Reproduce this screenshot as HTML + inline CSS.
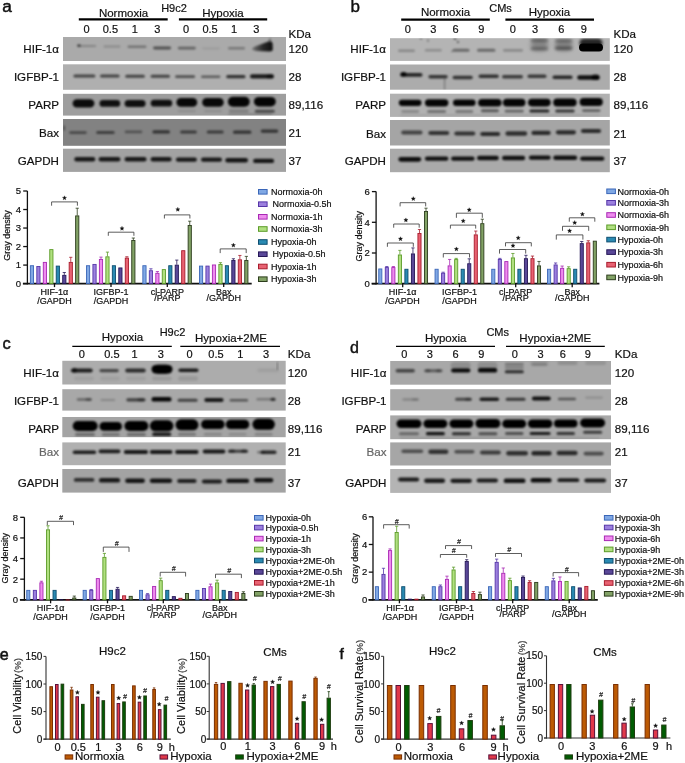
<!DOCTYPE html><html><head><meta charset="utf-8"><style>html,body{margin:0;padding:0;background:#fff;overflow:hidden}svg{display:block;will-change:transform}text{font-family:"Liberation Sans",sans-serif}</style></head><body>
<svg width="685" height="763" viewBox="0 0 685 763">
<defs>
<filter id="bl5" x="-20%" y="-80%" width="140%" height="260%"><feGaussianBlur stdDeviation="0.5"/></filter>
<filter id="bl6" x="-20%" y="-80%" width="140%" height="260%"><feGaussianBlur stdDeviation="0.6"/></filter>
<filter id="bl7" x="-20%" y="-80%" width="140%" height="260%"><feGaussianBlur stdDeviation="0.7"/></filter>
<filter id="bl8" x="-20%" y="-80%" width="140%" height="260%"><feGaussianBlur stdDeviation="0.8"/></filter>
<filter id="bl9" x="-20%" y="-80%" width="140%" height="260%"><feGaussianBlur stdDeviation="0.9"/></filter>
<filter id="bl10" x="-20%" y="-80%" width="140%" height="260%"><feGaussianBlur stdDeviation="1.0"/></filter>
<filter id="bl11" x="-20%" y="-80%" width="140%" height="260%"><feGaussianBlur stdDeviation="1.1"/></filter>
<filter id="bl12" x="-20%" y="-80%" width="140%" height="260%"><feGaussianBlur stdDeviation="1.2"/></filter>
<filter id="bl14" x="-20%" y="-80%" width="140%" height="260%"><feGaussianBlur stdDeviation="1.4"/></filter>
<filter id="bl16" x="-20%" y="-80%" width="140%" height="260%"><feGaussianBlur stdDeviation="1.6"/></filter>
<filter id="bl18" x="-20%" y="-80%" width="140%" height="260%"><feGaussianBlur stdDeviation="1.8"/></filter>
<filter id="bl20" x="-20%" y="-80%" width="140%" height="260%"><feGaussianBlur stdDeviation="2.0"/></filter>
<filter id="bl25" x="-20%" y="-80%" width="140%" height="260%"><feGaussianBlur stdDeviation="2.5"/></filter>
<filter id="bl30" x="-20%" y="-80%" width="140%" height="260%"><feGaussianBlur stdDeviation="3.0"/></filter>
<linearGradient id="wedge" x1="252" y1="0" x2="273" y2="0" gradientUnits="userSpaceOnUse"><stop offset="0" stop-color="#000" stop-opacity="0.3"/><stop offset="0.5" stop-color="#000" stop-opacity="0.75"/><stop offset="1" stop-color="#000" stop-opacity="0.92"/></linearGradient>
</defs>
<rect width="685" height="763" fill="#fff"/>
<text x="2.3" y="12.3" font-size="17.2" text-anchor="start" fill="#111" stroke="#111" stroke-width="0.5" >a</text>
<text x="123.5" y="16.6" font-size="11.5" text-anchor="middle" fill="#111" stroke="#111" stroke-width="0.2" >Normoxia</text>
<text x="223.0" y="16.6" font-size="11.5" text-anchor="middle" fill="#111" stroke="#111" stroke-width="0.2" >Hypoxia</text>
<text x="174.0" y="11.9" font-size="11" text-anchor="middle" fill="#111" stroke="#111" stroke-width="0.2" >H9c2</text>
<line x1="78.80" y1="19.30" x2="167.70" y2="19.30" stroke="#000" stroke-width="2.3" />
<line x1="178.90" y1="19.30" x2="267.20" y2="19.30" stroke="#000" stroke-width="2.3" />
<text x="86.6" y="32.9" font-size="11" text-anchor="middle" fill="#111" stroke="#111" stroke-width="0.2" >0</text>
<text x="110.4" y="32.9" font-size="11" text-anchor="middle" fill="#111" stroke="#111" stroke-width="0.2" >0.5</text>
<text x="134.8" y="32.9" font-size="11" text-anchor="middle" fill="#111" stroke="#111" stroke-width="0.2" >1</text>
<text x="157.2" y="32.9" font-size="11" text-anchor="middle" fill="#111" stroke="#111" stroke-width="0.2" >3</text>
<text x="186.1" y="32.9" font-size="11" text-anchor="middle" fill="#111" stroke="#111" stroke-width="0.2" >0</text>
<text x="210.1" y="32.9" font-size="11" text-anchor="middle" fill="#111" stroke="#111" stroke-width="0.2" >0.5</text>
<text x="234.0" y="32.9" font-size="11" text-anchor="middle" fill="#111" stroke="#111" stroke-width="0.2" >1</text>
<text x="256.4" y="32.9" font-size="11" text-anchor="middle" fill="#111" stroke="#111" stroke-width="0.2" >3</text>
<rect x="63.00" y="37.00" width="223.00" height="24.00" fill="#aaaaaa" />
<clipPath id="cp35"><rect x="63" y="37" width="223.00" height="24.00"/></clipPath>
<g clip-path="url(#cp35)">
<g filter="url(#bl10)">
<rect x="77.2" y="44.9" width="19.0" height="2.2" rx="1.1" fill="#000" fill-opacity="0.22"/>
<rect x="77.2" y="44.3" width="3.5" height="2.6" rx="1.3" fill="#000" fill-opacity="0.55"/>
<rect x="103.5" y="45.6" width="17.0" height="2.0" rx="1.0" fill="#000" fill-opacity="0.2"/>
<rect x="127.5" y="45.6" width="19.0" height="2.4" rx="1.2" fill="#000" fill-opacity="0.32"/>
<rect x="153.1" y="46.6" width="18.0" height="2.8" rx="1.4" fill="#000" fill-opacity="0.52"/>
<rect x="177.8" y="46.8" width="18.0" height="2.6" rx="1.3" fill="#000" fill-opacity="0.42"/>
<rect x="202.1" y="47.3" width="18.0" height="2.2" rx="1.1" fill="#000" fill-opacity="0.08"/>
<rect x="228.0" y="47.1" width="17.0" height="2.4" rx="1.2" fill="#000" fill-opacity="0.3"/>
</g>
</g>
<path d="M252,48.6 Q254,46.2 259,45 L267,42 Q272,40.5 272.6,43.5 L272.8,49.8 Q272.6,51.8 269,51.6 L256,51 Q252,50.6 252,48.6 Z" fill="url(#wedge)" filter="url(#bl8)"/>
<path d="M268,42 Q270,36 271,39 L271.5,44 Z" fill="#000" fill-opacity="0.35" filter="url(#bl10)"/>
<rect x="63.00" y="64.30" width="223.00" height="25.50" fill="#afafaf" />
<clipPath id="cp51"><rect x="63" y="64.3" width="223.00" height="25.50"/></clipPath>
<g clip-path="url(#cp51)">
<g filter="url(#bl10)">
<rect x="73.4" y="74.5" width="22.0" height="3.0" rx="1.5" fill="#000" fill-opacity="0.62"/>
<rect x="100.0" y="74.5" width="19.6" height="3.0" rx="1.5" fill="#000" fill-opacity="0.62"/>
<rect x="125.2" y="74.7" width="19.7" height="3.0" rx="1.5" fill="#000" fill-opacity="0.62"/>
<rect x="150.6" y="74.7" width="19.4" height="3.0" rx="1.5" fill="#000" fill-opacity="0.62"/>
<rect x="175.1" y="75.3" width="20.0" height="2.8" rx="1.4" fill="#000" fill-opacity="0.55"/>
<rect x="201.0" y="75.5" width="19.4" height="2.6" rx="1.3" fill="#000" fill-opacity="0.48"/>
<rect x="226.2" y="75.1" width="19.3" height="3.2" rx="1.6" fill="#000" fill-opacity="0.72"/>
<rect x="250.0" y="74.3" width="24.0" height="4.2" rx="2.1" fill="#000" fill-opacity="0.85"/>
<rect x="266.5" y="74.2" width="7.0" height="4.4" rx="2.2" fill="#000" fill-opacity="0.5"/>
</g>
</g>
<rect x="63.00" y="93.80" width="223.00" height="21.80" fill="#9e9e9e" />
<clipPath id="cp66"><rect x="63" y="93.8" width="223.00" height="21.80"/></clipPath>
<g clip-path="url(#cp66)">
<g filter="url(#bl12)">
<rect x="72.6" y="99.2" width="21.8" height="8.4" rx="4.2" fill="#000" fill-opacity="0.93"/>
<rect x="99.5" y="100.0" width="20.7" height="6.8" rx="3.4" fill="#000" fill-opacity="0.9"/>
<rect x="124.6" y="99.9" width="21.0" height="7.0" rx="3.5" fill="#000" fill-opacity="0.9"/>
<rect x="150.7" y="99.8" width="21.5" height="6.8" rx="3.4" fill="#000" fill-opacity="0.9"/>
<rect x="176.4" y="98.0" width="20.8" height="8.8" rx="4.4" fill="#000" fill-opacity="0.95"/>
<rect x="202.2" y="98.1" width="21.5" height="8.6" rx="4.3" fill="#000" fill-opacity="0.95"/>
<rect x="227.9" y="96.7" width="21.8" height="10.0" rx="5.0" fill="#000" fill-opacity="0.97"/>
<rect x="253.9" y="96.9" width="21.9" height="9.6" rx="4.8" fill="#000" fill-opacity="0.97"/>
<rect x="228.8" y="109.5" width="20.0" height="3.0" rx="1.5" fill="#000" fill-opacity="0.22"/>
<rect x="254.8" y="109.7" width="20.0" height="3.0" rx="1.5" fill="#000" fill-opacity="0.55"/>
<rect x="177.8" y="109.8" width="18.0" height="2.5" rx="1.2" fill="#000" fill-opacity="0.1"/>
<rect x="204.0" y="109.8" width="18.0" height="2.5" rx="1.2" fill="#000" fill-opacity="0.1"/>
<rect x="228.0" y="113.5" width="44.0" height="1.5" rx="0.8" fill="#000" fill-opacity="0.2"/>
</g>
</g>
<rect x="63.00" y="119.00" width="223.00" height="26.80" fill="#828282" />
<clipPath id="cp85"><rect x="63" y="119" width="223.00" height="26.80"/></clipPath>
<g clip-path="url(#cp85)">
<g filter="url(#bl10)">
<rect x="69.2" y="131.2" width="17.6" height="2.8" rx="1.4" fill="#000" fill-opacity="0.45"/>
<rect x="96.2" y="130.9" width="18.5" height="3.0" rx="1.5" fill="#000" fill-opacity="0.52"/>
<rect x="124.7" y="130.6" width="17.6" height="2.6" rx="1.3" fill="#000" fill-opacity="0.38"/>
<rect x="152.4" y="130.3" width="17.6" height="3.2" rx="1.6" fill="#000" fill-opacity="0.62"/>
<rect x="180.1" y="130.4" width="16.8" height="3.0" rx="1.5" fill="#000" fill-opacity="0.56"/>
<rect x="206.7" y="130.4" width="17.0" height="3.0" rx="1.5" fill="#000" fill-opacity="0.56"/>
<rect x="233.0" y="130.6" width="18.4" height="3.2" rx="1.6" fill="#000" fill-opacity="0.62"/>
<rect x="260.7" y="129.5" width="17.6" height="3.2" rx="1.6" fill="#000" fill-opacity="0.62"/>
<rect x="63.6" y="125.5" width="1.2" height="5.0" rx="0.6" fill="#000" fill-opacity="0.6"/>
</g>
</g>
<rect x="63.00" y="148.70" width="223.00" height="23.20" fill="#a2a2a2" />
<clipPath id="cp100"><rect x="63" y="148.7" width="223.00" height="23.20"/></clipPath>
<g clip-path="url(#cp100)">
<g filter="url(#bl10)">
<rect x="74.3" y="157.1" width="21.0" height="4.4" rx="2.2" fill="#000" fill-opacity="0.85"/>
<rect x="98.6" y="157.1" width="21.8" height="4.4" rx="2.2" fill="#000" fill-opacity="0.85"/>
<rect x="124.6" y="157.1" width="21.9" height="4.4" rx="2.2" fill="#000" fill-opacity="0.85"/>
<rect x="150.6" y="157.1" width="21.0" height="4.4" rx="2.2" fill="#000" fill-opacity="0.85"/>
<rect x="175.9" y="157.6" width="21.0" height="4.2" rx="2.1" fill="#000" fill-opacity="0.85"/>
<rect x="201.0" y="157.6" width="21.0" height="4.2" rx="2.1" fill="#000" fill-opacity="0.85"/>
<rect x="225.3" y="158.1" width="22.7" height="4.4" rx="2.2" fill="#000" fill-opacity="0.87"/>
<rect x="253.1" y="158.7" width="21.0" height="4.4" rx="2.2" fill="#000" fill-opacity="0.87"/>
</g>
</g>
<text x="59.0" y="53.2" font-size="11.6" text-anchor="end" fill="#111" stroke="#111" stroke-width="0.2" >HIF-1α</text>
<text x="59.0" y="80.7" font-size="11.6" text-anchor="end" fill="#111" stroke="#111" stroke-width="0.2" >IGFBP-1</text>
<text x="59.0" y="109.0" font-size="11.6" text-anchor="end" fill="#111" stroke="#111" stroke-width="0.2" >PARP</text>
<text x="59.0" y="137.3" font-size="11.6" text-anchor="end" fill="#111" stroke="#111" stroke-width="0.2" >Bax</text>
<text x="59.0" y="164.5" font-size="11.6" text-anchor="end" fill="#111" stroke="#111" stroke-width="0.2" >GAPDH</text>
<text x="288.5" y="37.6" font-size="11.6" text-anchor="start" fill="#111" stroke="#111" stroke-width="0.2" >KDa</text>
<text x="288.5" y="53.2" font-size="11.6" text-anchor="start" fill="#111" stroke="#111" stroke-width="0.2" >120</text>
<text x="288.5" y="80.7" font-size="11.6" text-anchor="start" fill="#111" stroke="#111" stroke-width="0.2" >28</text>
<text x="288.5" y="109.0" font-size="11.6" text-anchor="start" fill="#111" stroke="#111" stroke-width="0.2" >89,116</text>
<text x="288.5" y="137.3" font-size="11.6" text-anchor="start" fill="#111" stroke="#111" stroke-width="0.2" >21</text>
<text x="288.5" y="164.5" font-size="11.6" text-anchor="start" fill="#111" stroke="#111" stroke-width="0.2" >37</text>
<text x="350.5" y="12.3" font-size="17" text-anchor="start" fill="#111" stroke="#111" stroke-width="0.4" >b</text>
<text x="445.5" y="16.4" font-size="11.5" text-anchor="middle" fill="#111" stroke="#111" stroke-width="0.2" >Normoxia</text>
<text x="549.5" y="16.4" font-size="11.5" text-anchor="middle" fill="#111" stroke="#111" stroke-width="0.2" >Hypoxia</text>
<text x="500.5" y="11.9" font-size="11" text-anchor="middle" fill="#111" stroke="#111" stroke-width="0.2" >CMs</text>
<line x1="401.20" y1="19.60" x2="489.80" y2="19.60" stroke="#000" stroke-width="2.3" />
<line x1="505.40" y1="19.60" x2="594.00" y2="19.60" stroke="#000" stroke-width="2.3" />
<text x="407.8" y="32.9" font-size="11" text-anchor="middle" fill="#111" stroke="#111" stroke-width="0.2" >0</text>
<text x="433.3" y="32.9" font-size="11" text-anchor="middle" fill="#111" stroke="#111" stroke-width="0.2" >3</text>
<text x="455.6" y="32.9" font-size="11" text-anchor="middle" fill="#111" stroke="#111" stroke-width="0.2" >6</text>
<text x="481.4" y="32.9" font-size="11" text-anchor="middle" fill="#111" stroke="#111" stroke-width="0.2" >9</text>
<text x="512.9" y="32.9" font-size="11" text-anchor="middle" fill="#111" stroke="#111" stroke-width="0.2" >0</text>
<text x="535.1" y="32.9" font-size="11" text-anchor="middle" fill="#111" stroke="#111" stroke-width="0.2" >3</text>
<text x="561.3" y="32.9" font-size="11" text-anchor="middle" fill="#111" stroke="#111" stroke-width="0.2" >6</text>
<text x="583.7" y="32.9" font-size="11" text-anchor="middle" fill="#111" stroke="#111" stroke-width="0.2" >9</text>
<rect x="390.00" y="38.20" width="219.80" height="22.70" fill="#b4b4b4" />
<clipPath id="cp139"><rect x="390" y="38.2" width="219.80" height="22.70"/></clipPath>
<g clip-path="url(#cp139)">
<g filter="url(#bl10)">
<rect x="398.0" y="49.5" width="17.0" height="2.6" rx="1.3" fill="#000" fill-opacity="0.25"/>
<rect x="424.8" y="49.0" width="17.0" height="2.6" rx="1.3" fill="#000" fill-opacity="0.22"/>
<rect x="452.5" y="48.8" width="17.0" height="3.0" rx="1.5" fill="#000" fill-opacity="0.42"/>
<rect x="477.0" y="48.8" width="18.4" height="3.0" rx="1.5" fill="#000" fill-opacity="0.42"/>
<rect x="503.0" y="49.1" width="20.0" height="2.6" rx="1.3" fill="#000" fill-opacity="0.24"/>
<rect x="420.2" y="37.9" width="1.5" height="1.5" rx="0.8" fill="#000" fill-opacity="0.8"/>
<rect x="427.5" y="39.2" width="1.0" height="2.5" rx="0.5" fill="#000" fill-opacity="0.6"/>
<rect x="453.8" y="37.9" width="2.5" height="1.5" rx="0.8" fill="#000" fill-opacity="0.8"/>
<rect x="457.2" y="41.0" width="1.5" height="2.0" rx="0.8" fill="#000" fill-opacity="0.8"/>
<rect x="451.4" y="50.9" width="1.2" height="1.2" rx="0.6" fill="#000" fill-opacity="0.8"/>
</g>
<g filter="url(#bl20)">
<rect x="530.6" y="39.0" width="17.6" height="12.0" rx="6.0" fill="#000" fill-opacity="0.25"/>
<rect x="554.9" y="39.0" width="17.6" height="12.0" rx="6.0" fill="#000" fill-opacity="0.25"/>
</g>
<g filter="url(#bl18)">
<rect x="530.6" y="38.5" width="17.6" height="3.5" rx="1.8" fill="#000" fill-opacity="0.35"/>
<rect x="554.9" y="38.9" width="17.6" height="3.5" rx="1.8" fill="#000" fill-opacity="0.3"/>
</g>
<g filter="url(#bl16)">
<rect x="530.6" y="47.3" width="17.6" height="3.0" rx="1.5" fill="#000" fill-opacity="0.35"/>
<rect x="554.9" y="46.6" width="17.6" height="3.4" rx="1.7" fill="#000" fill-opacity="0.42"/>
<rect x="579.5" y="38.5" width="23.0" height="9.0" rx="4.5" fill="#000" fill-opacity="0.8"/>
</g>
<g filter="url(#bl13)">
<rect x="579.0" y="43.5" width="24.0" height="8.0" rx="4.0" fill="#000" fill-opacity="1.0"/>
</g>
</g>
<rect x="390.00" y="64.50" width="219.80" height="25.20" fill="#acacac" />
<clipPath id="cp171"><rect x="390" y="64.5" width="219.80" height="25.20"/></clipPath>
<g clip-path="url(#cp171)">
<g filter="url(#bl10)">
<rect x="400.2" y="73.1" width="22.3" height="3.6" rx="1.8" fill="#000" fill-opacity="0.78"/>
<rect x="400.5" y="72.0" width="6.0" height="4.5" rx="2.2" fill="#000" fill-opacity="0.9"/>
<rect x="428.4" y="75.1" width="19.3" height="3.4" rx="1.7" fill="#000" fill-opacity="0.7"/>
<rect x="452.6" y="75.8" width="20.2" height="3.4" rx="1.7" fill="#000" fill-opacity="0.7"/>
<rect x="478.6" y="74.5" width="20.2" height="3.4" rx="1.7" fill="#000" fill-opacity="0.72"/>
<rect x="502.0" y="75.1" width="21.0" height="3.4" rx="1.7" fill="#000" fill-opacity="0.66"/>
<rect x="527.5" y="74.5" width="19.0" height="3.4" rx="1.7" fill="#000" fill-opacity="0.68"/>
<rect x="552.5" y="75.4" width="20.1" height="3.6" rx="1.8" fill="#000" fill-opacity="0.78"/>
<rect x="577.2" y="75.2" width="22.5" height="4.6" rx="2.3" fill="#000" fill-opacity="0.9"/>
<rect x="591.5" y="74.5" width="8.0" height="5.6" rx="2.8" fill="#000" fill-opacity="0.8"/>
<rect x="444.3" y="78.8" width="0.8" height="11.0" rx="0.4" fill="#000" fill-opacity="0.5"/>
</g>
</g>
<rect x="390.00" y="93.70" width="219.80" height="23.20" fill="#b1b1b1" />
<clipPath id="cp188"><rect x="390" y="93.7" width="219.80" height="23.20"/></clipPath>
<g clip-path="url(#cp188)">
<g filter="url(#bl11)">
<rect x="398.8" y="99.7" width="22.7" height="6.2" rx="3.1" fill="#000" fill-opacity="0.97"/>
<rect x="424.9" y="99.2" width="23.5" height="7.2" rx="3.6" fill="#000" fill-opacity="0.97"/>
<rect x="453.0" y="99.6" width="22.6" height="6.4" rx="3.2" fill="#000" fill-opacity="0.97"/>
<rect x="478.1" y="99.0" width="23.5" height="7.6" rx="3.8" fill="#000" fill-opacity="0.97"/>
<rect x="502.9" y="98.7" width="22.6" height="7.8" rx="3.9" fill="#000" fill-opacity="0.97"/>
<rect x="528.0" y="98.8" width="22.7" height="7.6" rx="3.8" fill="#000" fill-opacity="0.97"/>
<rect x="553.2" y="98.4" width="23.5" height="8.0" rx="4.0" fill="#000" fill-opacity="0.97"/>
<rect x="579.6" y="98.1" width="23.2" height="7.8" rx="3.9" fill="#000" fill-opacity="0.97"/>
<rect x="401.2" y="110.1" width="18.0" height="2.8" rx="1.4" fill="#000" fill-opacity="0.22"/>
<rect x="427.1" y="110.0" width="19.0" height="3.0" rx="1.5" fill="#000" fill-opacity="0.36"/>
<rect x="455.3" y="110.0" width="18.0" height="3.0" rx="1.5" fill="#000" fill-opacity="0.32"/>
<rect x="480.9" y="109.3" width="18.0" height="3.0" rx="1.5" fill="#000" fill-opacity="0.5"/>
<rect x="504.7" y="109.8" width="19.0" height="2.8" rx="1.4" fill="#000" fill-opacity="0.45"/>
<rect x="529.4" y="109.5" width="20.0" height="3.0" rx="1.5" fill="#000" fill-opacity="0.8"/>
<rect x="555.2" y="109.5" width="19.5" height="3.0" rx="1.5" fill="#000" fill-opacity="0.7"/>
<rect x="582.0" y="109.2" width="18.5" height="2.8" rx="1.4" fill="#000" fill-opacity="0.45"/>
<rect x="400.0" y="114.6" width="200.0" height="1.2" rx="0.6" fill="#000" fill-opacity="0.12"/>
</g>
</g>
<rect x="390.00" y="120.00" width="219.80" height="25.50" fill="#a5a5a5" />
<clipPath id="cp211"><rect x="390" y="120" width="219.80" height="25.50"/></clipPath>
<g clip-path="url(#cp211)">
<g filter="url(#bl10)">
<rect x="401.2" y="130.5" width="21.3" height="4.0" rx="2.0" fill="#000" fill-opacity="0.6"/>
<rect x="428.3" y="130.9" width="21.0" height="4.2" rx="2.1" fill="#000" fill-opacity="0.7"/>
<rect x="454.3" y="131.4" width="21.0" height="4.2" rx="2.1" fill="#000" fill-opacity="0.7"/>
<rect x="480.2" y="131.9" width="20.0" height="4.2" rx="2.1" fill="#000" fill-opacity="0.75"/>
<rect x="505.4" y="131.3" width="21.8" height="4.4" rx="2.2" fill="#000" fill-opacity="0.72"/>
<rect x="531.4" y="130.8" width="19.3" height="4.2" rx="2.1" fill="#000" fill-opacity="0.75"/>
<rect x="555.9" y="130.2" width="20.1" height="4.2" rx="2.1" fill="#000" fill-opacity="0.75"/>
<rect x="580.9" y="128.9" width="20.2" height="4.2" rx="2.1" fill="#000" fill-opacity="0.75"/>
</g>
</g>
<rect x="390.00" y="148.70" width="219.80" height="23.50" fill="#aaaaaa" />
<clipPath id="cp225"><rect x="390" y="148.7" width="219.80" height="23.50"/></clipPath>
<g clip-path="url(#cp225)">
<g filter="url(#bl10)">
<rect x="398.4" y="156.9" width="22.8" height="4.8" rx="2.4" fill="#000" fill-opacity="0.92"/>
<rect x="424.9" y="156.4" width="23.5" height="4.4" rx="2.2" fill="#000" fill-opacity="0.9"/>
<rect x="451.1" y="156.4" width="23.5" height="4.4" rx="2.2" fill="#000" fill-opacity="0.9"/>
<rect x="477.0" y="155.8" width="21.8" height="4.4" rx="2.2" fill="#000" fill-opacity="0.9"/>
<rect x="502.0" y="155.8" width="23.2" height="4.4" rx="2.2" fill="#000" fill-opacity="0.9"/>
<rect x="528.9" y="155.4" width="21.8" height="4.4" rx="2.2" fill="#000" fill-opacity="0.9"/>
<rect x="553.2" y="155.5" width="24.0" height="4.6" rx="2.3" fill="#000" fill-opacity="0.9"/>
<rect x="580.1" y="156.4" width="24.3" height="4.4" rx="2.2" fill="#000" fill-opacity="0.9"/>
</g>
</g>
<text x="386.0" y="53.3" font-size="11.6" text-anchor="end" fill="#111" stroke="#111" stroke-width="0.2" >HIF-1α</text>
<text x="386.0" y="81.3" font-size="11.6" text-anchor="end" fill="#111" stroke="#111" stroke-width="0.2" >IGFBP-1</text>
<text x="386.0" y="108.5" font-size="11.6" text-anchor="end" fill="#111" stroke="#111" stroke-width="0.2" >PARP</text>
<text x="386.0" y="137.5" font-size="11.6" text-anchor="end" fill="#111" stroke="#111" stroke-width="0.2" >Bax</text>
<text x="386.0" y="164.5" font-size="11.6" text-anchor="end" fill="#111" stroke="#111" stroke-width="0.2" >GAPDH</text>
<text x="613.5" y="38.2" font-size="11.6" text-anchor="start" fill="#111" stroke="#111" stroke-width="0.2" >KDa</text>
<text x="613.5" y="53.3" font-size="11.6" text-anchor="start" fill="#111" stroke="#111" stroke-width="0.2" >120</text>
<text x="613.5" y="81.3" font-size="11.6" text-anchor="start" fill="#111" stroke="#111" stroke-width="0.2" >28</text>
<text x="613.5" y="108.5" font-size="11.6" text-anchor="start" fill="#111" stroke="#111" stroke-width="0.2" >89,116</text>
<text x="613.5" y="137.5" font-size="11.6" text-anchor="start" fill="#111" stroke="#111" stroke-width="0.2" >21</text>
<text x="613.5" y="164.5" font-size="11.6" text-anchor="start" fill="#111" stroke="#111" stroke-width="0.2" >37</text>
<text x="2.4" y="349.0" font-size="16.5" text-anchor="start" fill="#111" stroke="#111" stroke-width="0.45" >c</text>
<text x="122.5" y="341.2" font-size="11.5" text-anchor="middle" fill="#111" stroke="#111" stroke-width="0.2" >Hypoxia</text>
<text x="231.0" y="341.5" font-size="11.5" text-anchor="middle" fill="#111" stroke="#111" stroke-width="0.2" >Hypoxia+2ME</text>
<text x="172.5" y="335.8" font-size="11" text-anchor="middle" fill="#111" stroke="#111" stroke-width="0.2" >H9c2</text>
<line x1="72.30" y1="346.40" x2="171.80" y2="346.40" stroke="#000" stroke-width="1.2" />
<line x1="180.30" y1="346.40" x2="280.00" y2="346.40" stroke="#000" stroke-width="1.2" />
<text x="81.7" y="358.4" font-size="11" text-anchor="middle" fill="#111" stroke="#111" stroke-width="0.2" >0</text>
<text x="111.9" y="358.4" font-size="11" text-anchor="middle" fill="#111" stroke="#111" stroke-width="0.2" >0.5</text>
<text x="134.6" y="358.4" font-size="11" text-anchor="middle" fill="#111" stroke="#111" stroke-width="0.2" >1</text>
<text x="160.8" y="358.4" font-size="11" text-anchor="middle" fill="#111" stroke="#111" stroke-width="0.2" >3</text>
<text x="189.6" y="358.4" font-size="11" text-anchor="middle" fill="#111" stroke="#111" stroke-width="0.2" >0</text>
<text x="216.0" y="358.4" font-size="11" text-anchor="middle" fill="#111" stroke="#111" stroke-width="0.2" >0.5</text>
<text x="240.4" y="358.4" font-size="11" text-anchor="middle" fill="#111" stroke="#111" stroke-width="0.2" >1</text>
<text x="266.0" y="358.4" font-size="11" text-anchor="middle" fill="#111" stroke="#111" stroke-width="0.2" >3</text>
<rect x="62.30" y="360.80" width="223.40" height="23.70" fill="#acacac" />
<clipPath id="cp264"><rect x="62.3" y="360.8" width="223.40" height="23.70"/></clipPath>
<g clip-path="url(#cp264)">
<g filter="url(#bl10)">
<rect x="70.9" y="368.4" width="21.8" height="4.2" rx="2.1" fill="#000" fill-opacity="0.82"/>
<rect x="72.0" y="367.8" width="5.0" height="5.0" rx="2.5" fill="#000" fill-opacity="0.6"/>
<rect x="99.4" y="369.0" width="19.4" height="3.2" rx="1.6" fill="#000" fill-opacity="0.6"/>
<rect x="125.2" y="368.5" width="20.5" height="4.0" rx="2.0" fill="#000" fill-opacity="0.75"/>
<rect x="151.5" y="364.9" width="21.0" height="8.5" rx="4.2" fill="#000" fill-opacity="1.0"/>
<rect x="153.5" y="364.4" width="17.0" height="9.5" rx="4.8" fill="#000" fill-opacity="0.8"/>
<rect x="178.4" y="368.6" width="20.1" height="3.5" rx="1.8" fill="#000" fill-opacity="0.85"/>
<rect x="74.0" y="376.5" width="20.0" height="4.0" rx="2.0" fill="#000" fill-opacity="0.07"/>
<rect x="100.0" y="376.5" width="20.0" height="4.0" rx="2.0" fill="#000" fill-opacity="0.07"/>
<rect x="126.0" y="376.5" width="20.0" height="4.0" rx="2.0" fill="#000" fill-opacity="0.07"/>
<rect x="152.0" y="376.5" width="20.0" height="4.0" rx="2.0" fill="#000" fill-opacity="0.1"/>
<rect x="178.0" y="376.0" width="20.0" height="5.0" rx="2.5" fill="#000" fill-opacity="0.1"/>
</g>
<g filter="url(#bl14)">
<rect x="257.5" y="368.8" width="21.0" height="3.0" rx="1.5" fill="#000" fill-opacity="0.1"/>
</g>
<g filter="url(#bl12)">
<rect x="276.6" y="362.0" width="1.5" height="8.0" rx="0.8" fill="#000" fill-opacity="0.3"/>
</g>
</g>
<rect x="62.30" y="389.20" width="223.40" height="21.40" fill="#a8a8a8" />
<clipPath id="cp288"><rect x="62.3" y="389.2" width="223.40" height="21.40"/></clipPath>
<g clip-path="url(#cp288)">
<g filter="url(#bl10)">
<rect x="76.8" y="398.2" width="15.0" height="2.5" rx="1.2" fill="#000" fill-opacity="0.4"/>
<rect x="85.5" y="397.9" width="6.0" height="3.0" rx="1.5" fill="#000" fill-opacity="0.3"/>
<rect x="100.4" y="398.9" width="15.0" height="2.2" rx="1.1" fill="#000" fill-opacity="0.2"/>
<rect x="126.3" y="398.2" width="19.3" height="3.2" rx="1.6" fill="#000" fill-opacity="0.62"/>
<rect x="137.5" y="398.1" width="7.0" height="3.4" rx="1.7" fill="#000" fill-opacity="0.3"/>
<rect x="151.5" y="397.1" width="20.0" height="4.5" rx="2.2" fill="#000" fill-opacity="0.95"/>
<rect x="177.6" y="398.8" width="20.0" height="3.0" rx="1.5" fill="#000" fill-opacity="0.62"/>
<rect x="204.3" y="398.1" width="19.3" height="3.8" rx="1.9" fill="#000" fill-opacity="0.85"/>
<rect x="229.6" y="399.1" width="18.5" height="2.5" rx="1.2" fill="#000" fill-opacity="0.5"/>
<rect x="256.4" y="398.1" width="19.3" height="2.5" rx="1.2" fill="#000" fill-opacity="0.28"/>
<rect x="270.5" y="397.8" width="5.0" height="3.2" rx="1.6" fill="#000" fill-opacity="0.6"/>
</g>
</g>
<rect x="62.30" y="417.00" width="223.40" height="20.20" fill="#a4a4a4" />
<clipPath id="cp305"><rect x="62.3" y="417" width="223.40" height="20.20"/></clipPath>
<g clip-path="url(#cp305)">
<g filter="url(#bl12)">
<rect x="72.7" y="421.0" width="25.0" height="10.0" rx="5.0" fill="#000" fill-opacity="1.0"/>
<rect x="99.5" y="422.1" width="22.5" height="8.6" rx="4.3" fill="#000" fill-opacity="1.0"/>
<rect x="124.4" y="421.0" width="24.0" height="10.0" rx="5.0" fill="#000" fill-opacity="1.0"/>
<rect x="149.9" y="420.3" width="23.5" height="11.0" rx="5.5" fill="#000" fill-opacity="1.0"/>
<rect x="175.5" y="419.3" width="23.0" height="11.0" rx="5.5" fill="#000" fill-opacity="1.0"/>
<rect x="201.1" y="419.7" width="23.5" height="9.4" rx="4.7" fill="#000" fill-opacity="1.0"/>
<rect x="225.8" y="419.7" width="23.5" height="9.4" rx="4.7" fill="#000" fill-opacity="1.0"/>
<rect x="252.4" y="418.8" width="22.5" height="11.0" rx="5.5" fill="#000" fill-opacity="1.0"/>
<rect x="75.0" y="433.1" width="20.0" height="3.0" rx="1.5" fill="#000" fill-opacity="0.35"/>
<rect x="101.8" y="433.1" width="18.0" height="3.0" rx="1.5" fill="#000" fill-opacity="0.3"/>
<rect x="126.9" y="433.1" width="19.0" height="3.0" rx="1.5" fill="#000" fill-opacity="0.35"/>
<rect x="152.2" y="432.6" width="19.0" height="3.4" rx="1.7" fill="#000" fill-opacity="0.85"/>
<rect x="178.0" y="432.8" width="18.0" height="3.0" rx="1.5" fill="#000" fill-opacity="0.28"/>
<rect x="203.8" y="432.8" width="18.0" height="3.0" rx="1.5" fill="#000" fill-opacity="0.18"/>
<rect x="228.5" y="432.8" width="18.0" height="3.0" rx="1.5" fill="#000" fill-opacity="0.15"/>
<rect x="254.6" y="432.8" width="18.0" height="3.0" rx="1.5" fill="#000" fill-opacity="0.2"/>
</g>
</g>
<rect x="62.30" y="442.40" width="223.40" height="22.80" fill="#b0b0b0" />
<clipPath id="cp327"><rect x="62.3" y="442.4" width="223.40" height="22.80"/></clipPath>
<g clip-path="url(#cp327)">
<g filter="url(#bl10)">
<rect x="72.7" y="450.5" width="23.5" height="3.6" rx="1.8" fill="#000" fill-opacity="0.85"/>
<rect x="98.6" y="449.4" width="21.8" height="3.8" rx="1.9" fill="#000" fill-opacity="0.85"/>
<rect x="123.8" y="450.1" width="24.3" height="3.8" rx="1.9" fill="#000" fill-opacity="0.87"/>
<rect x="149.8" y="450.1" width="22.7" height="3.8" rx="1.9" fill="#000" fill-opacity="0.87"/>
<rect x="175.1" y="450.1" width="23.5" height="3.8" rx="1.9" fill="#000" fill-opacity="0.87"/>
<rect x="202.7" y="449.4" width="22.7" height="4.0" rx="2.0" fill="#000" fill-opacity="0.87"/>
<rect x="227.9" y="449.7" width="20.2" height="3.0" rx="1.5" fill="#000" fill-opacity="0.65"/>
<rect x="229.0" y="449.6" width="6.0" height="3.2" rx="1.6" fill="#000" fill-opacity="0.5"/>
<rect x="241.0" y="449.6" width="6.0" height="3.2" rx="1.6" fill="#000" fill-opacity="0.5"/>
<rect x="260.5" y="450.6" width="16.0" height="3.4" rx="1.7" fill="#000" fill-opacity="0.78"/>
<rect x="257.0" y="451.0" width="8.0" height="2.6" rx="1.3" fill="#000" fill-opacity="0.35"/>
</g>
</g>
<rect x="62.30" y="469.00" width="223.40" height="23.60" fill="#a3a3a3" />
<clipPath id="cp344"><rect x="62.3" y="469" width="223.40" height="23.60"/></clipPath>
<g clip-path="url(#cp344)">
<g filter="url(#bl10)">
<rect x="73.8" y="478.0" width="20.6" height="3.8" rx="1.9" fill="#000" fill-opacity="0.72"/>
<rect x="99.0" y="478.1" width="21.1" height="4.5" rx="2.2" fill="#000" fill-opacity="0.85"/>
<rect x="125.2" y="478.4" width="19.7" height="4.5" rx="2.2" fill="#000" fill-opacity="0.88"/>
<rect x="149.8" y="478.4" width="22.3" height="4.5" rx="2.2" fill="#000" fill-opacity="0.88"/>
<rect x="177.1" y="479.1" width="19.5" height="4.0" rx="2.0" fill="#000" fill-opacity="0.8"/>
<rect x="201.9" y="479.4" width="20.1" height="4.2" rx="2.1" fill="#000" fill-opacity="0.82"/>
<rect x="226.2" y="478.7" width="23.0" height="4.4" rx="2.2" fill="#000" fill-opacity="0.88"/>
<rect x="254.0" y="478.1" width="19.3" height="4.4" rx="2.2" fill="#000" fill-opacity="0.88"/>
</g>
</g>
<text x="59.0" y="376.8" font-size="11.6" text-anchor="end" fill="#111" stroke="#111" stroke-width="0.2" >HIF-1α</text>
<text x="59.0" y="405.4" font-size="11.6" text-anchor="end" fill="#111" stroke="#111" stroke-width="0.2" >IGFBP-1</text>
<text x="59.0" y="433.0" font-size="11.6" text-anchor="end" fill="#111" stroke="#111" stroke-width="0.2" >PARP</text>
<text x="59.0" y="455.8" font-size="11.6" text-anchor="end" fill="#666" stroke="#666" stroke-width="0.2" >Bax</text>
<text x="59.0" y="487.2" font-size="11.6" text-anchor="end" fill="#111" stroke="#111" stroke-width="0.2" >GAPDH</text>
<text x="287.8" y="358.4" font-size="11.6" text-anchor="start" fill="#111" stroke="#111" stroke-width="0.2" >KDa</text>
<text x="287.8" y="376.8" font-size="11.6" text-anchor="start" fill="#111" stroke="#111" stroke-width="0.2" >120</text>
<text x="287.8" y="405.4" font-size="11.6" text-anchor="start" fill="#111" stroke="#111" stroke-width="0.2" >28</text>
<text x="287.8" y="433.0" font-size="11.6" text-anchor="start" fill="#111" stroke="#111" stroke-width="0.2" >89,116</text>
<text x="287.8" y="455.8" font-size="11.6" text-anchor="start" fill="#111" stroke="#111" stroke-width="0.2" >21</text>
<text x="287.8" y="487.2" font-size="11.6" text-anchor="start" fill="#111" stroke="#111" stroke-width="0.2" >37</text>
<text x="350.0" y="352.8" font-size="16" text-anchor="start" fill="#111" stroke="#111" stroke-width="0.4" >d</text>
<text x="445.7" y="342.3" font-size="11.5" text-anchor="middle" fill="#111" stroke="#111" stroke-width="0.2" >Hypoxia</text>
<text x="555.3" y="341.6" font-size="11.5" text-anchor="middle" fill="#111" stroke="#111" stroke-width="0.2" >Hypoxia+2ME</text>
<text x="497.7" y="336.3" font-size="11" text-anchor="middle" fill="#111" stroke="#111" stroke-width="0.2" >CMs</text>
<line x1="396.00" y1="346.40" x2="495.00" y2="346.40" stroke="#000" stroke-width="1.2" />
<line x1="506.00" y1="346.30" x2="604.80" y2="346.30" stroke="#000" stroke-width="1.2" />
<text x="404.4" y="358.2" font-size="11" text-anchor="middle" fill="#111" stroke="#111" stroke-width="0.2" >0</text>
<text x="429.9" y="358.2" font-size="11" text-anchor="middle" fill="#111" stroke="#111" stroke-width="0.2" >3</text>
<text x="455.6" y="358.2" font-size="11" text-anchor="middle" fill="#111" stroke="#111" stroke-width="0.2" >6</text>
<text x="481.4" y="358.2" font-size="11" text-anchor="middle" fill="#111" stroke="#111" stroke-width="0.2" >9</text>
<text x="514.9" y="358.2" font-size="11" text-anchor="middle" fill="#111" stroke="#111" stroke-width="0.2" >0</text>
<text x="540.5" y="358.2" font-size="11" text-anchor="middle" fill="#111" stroke="#111" stroke-width="0.2" >3</text>
<text x="562.7" y="358.2" font-size="11" text-anchor="middle" fill="#111" stroke="#111" stroke-width="0.2" >6</text>
<text x="587.8" y="358.2" font-size="11" text-anchor="middle" fill="#111" stroke="#111" stroke-width="0.2" >9</text>
<rect x="390.20" y="361.00" width="220.80" height="23.70" fill="#a8a8a8" />
<clipPath id="cp383"><rect x="390.2" y="361" width="220.80" height="23.70"/></clipPath>
<g clip-path="url(#cp383)">
<g filter="url(#bl10)">
<rect x="395.6" y="369.1" width="19.3" height="3.4" rx="1.7" fill="#000" fill-opacity="0.6"/>
<rect x="424.1" y="369.3" width="18.5" height="3.0" rx="1.5" fill="#000" fill-opacity="0.45"/>
<rect x="425.5" y="369.3" width="5.0" height="3.0" rx="1.5" fill="#000" fill-opacity="0.3"/>
<rect x="436.0" y="369.3" width="5.0" height="3.0" rx="1.5" fill="#000" fill-opacity="0.3"/>
<rect x="451.1" y="368.6" width="19.3" height="4.0" rx="2.0" fill="#000" fill-opacity="0.95"/>
<rect x="450.7" y="362.0" width="20.0" height="7.0" rx="3.5" fill="#000" fill-opacity="0.15"/>
<rect x="477.9" y="368.1" width="19.3" height="4.5" rx="2.2" fill="#000" fill-opacity="0.95"/>
<rect x="477.5" y="362.0" width="20.0" height="7.0" rx="3.5" fill="#000" fill-opacity="0.15"/>
<rect x="504.8" y="363.3" width="19.0" height="2.0" rx="1.0" fill="#000" fill-opacity="0.38"/>
<rect x="504.8" y="366.4" width="19.0" height="2.0" rx="1.0" fill="#000" fill-opacity="0.32"/>
<rect x="504.8" y="370.3" width="19.0" height="3.0" rx="1.5" fill="#000" fill-opacity="0.75"/>
<rect x="557.5" y="361.0" width="20.0" height="4.0" rx="2.0" fill="#000" fill-opacity="0.15"/>
<rect x="585.1" y="361.0" width="21.0" height="4.0" rx="2.0" fill="#000" fill-opacity="0.12"/>
</g>
<g filter="url(#bl12)">
<rect x="531.4" y="363.0" width="16.0" height="3.0" rx="1.5" fill="#000" fill-opacity="0.18"/>
</g>
<g filter="url(#bl14)">
<rect x="530.4" y="361.0" width="18.0" height="4.0" rx="2.0" fill="#000" fill-opacity="0.1"/>
</g>
</g>
<rect x="390.20" y="389.20" width="220.80" height="21.30" fill="#a8a8a8" />
<clipPath id="cp408"><rect x="390.2" y="389.2" width="220.80" height="21.30"/></clipPath>
<g clip-path="url(#cp408)">
<g filter="url(#bl10)">
<rect x="402.3" y="398.3" width="16.8" height="2.4" rx="1.2" fill="#000" fill-opacity="0.2"/>
<rect x="412.0" y="398.2" width="6.0" height="2.6" rx="1.3" fill="#000" fill-opacity="0.15"/>
<rect x="455.1" y="397.8" width="16.8" height="3.0" rx="1.5" fill="#000" fill-opacity="0.58"/>
<rect x="465.0" y="397.7" width="6.0" height="3.2" rx="1.6" fill="#000" fill-opacity="0.3"/>
<rect x="479.5" y="397.5" width="19.6" height="3.6" rx="1.8" fill="#000" fill-opacity="0.85"/>
<rect x="505.7" y="397.7" width="19.8" height="3.0" rx="1.5" fill="#000" fill-opacity="0.68"/>
<rect x="531.9" y="396.6" width="18.8" height="4.0" rx="2.0" fill="#000" fill-opacity="0.9"/>
<rect x="557.9" y="397.7" width="18.1" height="2.6" rx="1.3" fill="#000" fill-opacity="0.5"/>
<rect x="585.2" y="396.4" width="17.6" height="2.4" rx="1.2" fill="#000" fill-opacity="0.15"/>
</g>
</g>
<rect x="390.20" y="415.40" width="220.80" height="23.80" fill="#a8a8a8" />
<clipPath id="cp423"><rect x="390.2" y="415.4" width="220.80" height="23.80"/></clipPath>
<g clip-path="url(#cp423)">
<g filter="url(#bl12)">
<rect x="396.5" y="419.6" width="25.0" height="8.4" rx="4.2" fill="#000" fill-opacity="1.0"/>
<rect x="423.4" y="419.6" width="24.0" height="8.4" rx="4.2" fill="#000" fill-opacity="1.0"/>
<rect x="449.4" y="419.6" width="24.0" height="8.4" rx="4.2" fill="#000" fill-opacity="1.0"/>
<rect x="475.4" y="418.9" width="25.0" height="9.2" rx="4.6" fill="#000" fill-opacity="1.0"/>
<rect x="502.2" y="419.5" width="24.0" height="8.6" rx="4.3" fill="#000" fill-opacity="1.0"/>
<rect x="527.9" y="419.6" width="24.5" height="8.4" rx="4.2" fill="#000" fill-opacity="1.0"/>
<rect x="554.0" y="419.6" width="23.5" height="8.0" rx="4.0" fill="#000" fill-opacity="1.0"/>
<rect x="580.1" y="418.4" width="25.0" height="9.0" rx="4.5" fill="#000" fill-opacity="1.0"/>
<rect x="399.0" y="432.2" width="20.0" height="3.0" rx="1.5" fill="#000" fill-opacity="0.4"/>
<rect x="425.9" y="432.1" width="19.0" height="3.2" rx="1.6" fill="#000" fill-opacity="0.9"/>
<rect x="451.9" y="432.2" width="19.0" height="3.0" rx="1.5" fill="#000" fill-opacity="0.75"/>
<rect x="478.4" y="432.2" width="19.0" height="3.0" rx="1.5" fill="#000" fill-opacity="0.55"/>
<rect x="505.0" y="432.0" width="18.5" height="3.0" rx="1.5" fill="#000" fill-opacity="0.55"/>
<rect x="529.6" y="431.9" width="21.0" height="3.2" rx="1.6" fill="#000" fill-opacity="0.85"/>
<rect x="556.5" y="432.0" width="18.5" height="3.0" rx="1.5" fill="#000" fill-opacity="0.7"/>
<rect x="583.1" y="430.8" width="19.0" height="3.0" rx="1.5" fill="#000" fill-opacity="0.65"/>
<rect x="400.0" y="437.2" width="200.0" height="1.5" rx="0.8" fill="#000" fill-opacity="0.12"/>
</g>
</g>
<rect x="390.20" y="442.40" width="220.80" height="23.10" fill="#a6a6a6" />
<clipPath id="cp446"><rect x="390.2" y="442.4" width="220.80" height="23.10"/></clipPath>
<g clip-path="url(#cp446)">
<g filter="url(#bl10)">
<rect x="401.4" y="449.5" width="21.8" height="3.6" rx="1.8" fill="#000" fill-opacity="0.55"/>
<rect x="428.3" y="449.6" width="20.1" height="4.4" rx="2.2" fill="#000" fill-opacity="0.7"/>
<rect x="454.3" y="450.0" width="20.2" height="3.6" rx="1.8" fill="#000" fill-opacity="0.55"/>
<rect x="480.0" y="450.4" width="20.8" height="4.0" rx="2.0" fill="#000" fill-opacity="0.65"/>
<rect x="506.2" y="451.0" width="21.8" height="4.4" rx="2.2" fill="#000" fill-opacity="0.72"/>
<rect x="531.4" y="451.0" width="20.2" height="4.4" rx="2.2" fill="#000" fill-opacity="0.78"/>
<rect x="556.6" y="450.8" width="21.0" height="4.4" rx="2.2" fill="#000" fill-opacity="0.75"/>
<rect x="583.6" y="451.8" width="20.1" height="3.6" rx="1.8" fill="#000" fill-opacity="0.55"/>
</g>
</g>
<rect x="390.20" y="469.00" width="220.80" height="23.90" fill="#b4b4b4" />
<clipPath id="cp460"><rect x="390.2" y="469" width="220.80" height="23.90"/></clipPath>
<g clip-path="url(#cp460)">
<g filter="url(#bl10)">
<rect x="398.1" y="477.4" width="21.0" height="4.0" rx="2.0" fill="#000" fill-opacity="0.85"/>
<rect x="424.1" y="478.6" width="21.0" height="4.4" rx="2.2" fill="#000" fill-opacity="0.85"/>
<rect x="450.4" y="478.7" width="21.5" height="4.2" rx="2.1" fill="#000" fill-opacity="0.85"/>
<rect x="476.6" y="478.4" width="21.4" height="4.2" rx="2.1" fill="#000" fill-opacity="0.85"/>
<rect x="503.7" y="478.6" width="21.8" height="4.5" rx="2.2" fill="#000" fill-opacity="0.9"/>
<rect x="530.6" y="478.1" width="21.0" height="4.5" rx="2.2" fill="#000" fill-opacity="0.92"/>
<rect x="557.4" y="478.3" width="21.9" height="3.8" rx="1.9" fill="#000" fill-opacity="0.85"/>
<rect x="584.3" y="478.4" width="21.8" height="4.2" rx="2.1" fill="#000" fill-opacity="0.85"/>
</g>
</g>
<text x="386.5" y="376.8" font-size="11.6" text-anchor="end" fill="#111" stroke="#111" stroke-width="0.2" >HIF-1α</text>
<text x="386.5" y="405.3" font-size="11.6" text-anchor="end" fill="#111" stroke="#111" stroke-width="0.2" >IGFBP-1</text>
<text x="386.5" y="432.8" font-size="11.6" text-anchor="end" fill="#111" stroke="#111" stroke-width="0.2" >PARP</text>
<text x="386.5" y="455.6" font-size="11.6" text-anchor="end" fill="#666" stroke="#666" stroke-width="0.2" >Bax</text>
<text x="386.5" y="487.0" font-size="11.6" text-anchor="end" fill="#111" stroke="#111" stroke-width="0.2" >GAPDH</text>
<text x="614.8" y="357.8" font-size="11.6" text-anchor="start" fill="#111" stroke="#111" stroke-width="0.2" >KDa</text>
<text x="614.8" y="376.8" font-size="11.6" text-anchor="start" fill="#111" stroke="#111" stroke-width="0.2" >120</text>
<text x="614.8" y="405.3" font-size="11.6" text-anchor="start" fill="#111" stroke="#111" stroke-width="0.2" >28</text>
<text x="614.8" y="432.8" font-size="11.6" text-anchor="start" fill="#111" stroke="#111" stroke-width="0.2" >89,116</text>
<text x="614.8" y="455.6" font-size="11.6" text-anchor="start" fill="#111" stroke="#111" stroke-width="0.2" >21</text>
<text x="614.8" y="487.0" font-size="11.6" text-anchor="start" fill="#111" stroke="#111" stroke-width="0.2" >37</text>
<line x1="27.40" y1="191.00" x2="27.40" y2="284.40" stroke="#111" stroke-width="1.3" />
<line x1="22.90" y1="283.60" x2="251.70" y2="283.60" stroke="#111" stroke-width="1.7" />
<line x1="23.20" y1="283.60" x2="27.40" y2="283.60" stroke="#111" stroke-width="1.3" />
<text x="21.0" y="286.9" font-size="9.5" text-anchor="end" fill="#111" stroke="#111" stroke-width="0.2" >0</text>
<line x1="23.20" y1="265.08" x2="27.40" y2="265.08" stroke="#111" stroke-width="1.3" />
<text x="21.0" y="268.4" font-size="9.5" text-anchor="end" fill="#111" stroke="#111" stroke-width="0.2" >1</text>
<line x1="23.20" y1="246.56" x2="27.40" y2="246.56" stroke="#111" stroke-width="1.3" />
<text x="21.0" y="249.9" font-size="9.5" text-anchor="end" fill="#111" stroke="#111" stroke-width="0.2" >2</text>
<line x1="23.20" y1="228.04" x2="27.40" y2="228.04" stroke="#111" stroke-width="1.3" />
<text x="21.0" y="231.3" font-size="9.5" text-anchor="end" fill="#111" stroke="#111" stroke-width="0.2" >3</text>
<line x1="23.20" y1="209.52" x2="27.40" y2="209.52" stroke="#111" stroke-width="1.3" />
<text x="21.0" y="212.8" font-size="9.5" text-anchor="end" fill="#111" stroke="#111" stroke-width="0.2" >4</text>
<line x1="23.20" y1="191.00" x2="27.40" y2="191.00" stroke="#111" stroke-width="1.3" />
<text x="21.0" y="194.3" font-size="9.5" text-anchor="end" fill="#111" stroke="#111" stroke-width="0.2" >5</text>
<line x1="54.50" y1="283.60" x2="54.50" y2="287.10" stroke="#111" stroke-width="1.3" />
<line x1="111.00" y1="283.60" x2="111.00" y2="287.10" stroke="#111" stroke-width="1.3" />
<line x1="167.30" y1="283.60" x2="167.30" y2="287.10" stroke="#111" stroke-width="1.3" />
<line x1="223.70" y1="283.60" x2="223.70" y2="287.10" stroke="#111" stroke-width="1.3" />
<rect x="30.35" y="265.72" width="3.20" height="17.88" fill="#80a8e4" stroke="#3a66b8" stroke-width="0.9"/>
<rect x="36.82" y="266.46" width="3.20" height="17.14" fill="#9c80de" stroke="#5636a8" stroke-width="0.9"/>
<rect x="43.29" y="262.38" width="3.20" height="21.22" fill="#ee8cee" stroke="#a828b4" stroke-width="0.9"/>
<rect x="49.76" y="249.60" width="3.20" height="34.00" fill="#b0e080" stroke="#5c9c28" stroke-width="0.9"/>
<rect x="56.23" y="266.09" width="3.20" height="17.51" fill="#2a8ab2" stroke="#0e4e70" stroke-width="0.9"/>
<line x1="64.30" y1="274.90" x2="64.30" y2="272.49" stroke="#261858" stroke-width="0.8" />
<line x1="62.70" y1="272.49" x2="65.90" y2="272.49" stroke="#261858" stroke-width="0.8" />
<rect x="62.70" y="275.35" width="3.20" height="8.25" fill="#5a4898" stroke="#261858" stroke-width="0.9"/>
<line x1="70.77" y1="261.93" x2="70.77" y2="257.30" stroke="#a81c2c" stroke-width="0.8" />
<line x1="69.17" y1="257.30" x2="72.37" y2="257.30" stroke="#a81c2c" stroke-width="0.8" />
<rect x="69.17" y="262.38" width="3.20" height="21.22" fill="#e86272" stroke="#a81c2c" stroke-width="0.9"/>
<line x1="77.24" y1="215.45" x2="77.24" y2="208.22" stroke="#2c3c1c" stroke-width="0.8" />
<line x1="75.64" y1="208.22" x2="78.84" y2="208.22" stroke="#2c3c1c" stroke-width="0.8" />
<rect x="75.64" y="215.90" width="3.20" height="67.70" fill="#82a266" stroke="#2c3c1c" stroke-width="0.9"/>
<rect x="86.45" y="265.72" width="3.20" height="17.88" fill="#80a8e4" stroke="#3a66b8" stroke-width="0.9"/>
<rect x="92.92" y="264.42" width="3.20" height="19.18" fill="#9c80de" stroke="#5636a8" stroke-width="0.9"/>
<line x1="100.99" y1="258.97" x2="100.99" y2="257.12" stroke="#a828b4" stroke-width="0.8" />
<line x1="99.39" y1="257.12" x2="102.59" y2="257.12" stroke="#a828b4" stroke-width="0.8" />
<rect x="99.39" y="259.42" width="3.20" height="24.18" fill="#ee8cee" stroke="#a828b4" stroke-width="0.9"/>
<line x1="107.46" y1="256.38" x2="107.46" y2="252.12" stroke="#5c9c28" stroke-width="0.8" />
<line x1="105.86" y1="252.12" x2="109.06" y2="252.12" stroke="#5c9c28" stroke-width="0.8" />
<rect x="105.86" y="256.83" width="3.20" height="26.77" fill="#b0e080" stroke="#5c9c28" stroke-width="0.9"/>
<rect x="112.33" y="265.72" width="3.20" height="17.88" fill="#2a8ab2" stroke="#0e4e70" stroke-width="0.9"/>
<rect x="118.80" y="267.94" width="3.20" height="15.66" fill="#5a4898" stroke="#261858" stroke-width="0.9"/>
<line x1="126.87" y1="257.67" x2="126.87" y2="256.75" stroke="#a81c2c" stroke-width="0.8" />
<line x1="125.27" y1="256.75" x2="128.47" y2="256.75" stroke="#a81c2c" stroke-width="0.8" />
<rect x="125.27" y="258.12" width="3.20" height="25.48" fill="#e86272" stroke="#a81c2c" stroke-width="0.9"/>
<line x1="133.34" y1="240.08" x2="133.34" y2="238.04" stroke="#2c3c1c" stroke-width="0.8" />
<line x1="131.74" y1="238.04" x2="134.94" y2="238.04" stroke="#2c3c1c" stroke-width="0.8" />
<rect x="131.74" y="240.53" width="3.20" height="43.07" fill="#82a266" stroke="#2c3c1c" stroke-width="0.9"/>
<rect x="142.85" y="265.72" width="3.20" height="17.88" fill="#80a8e4" stroke="#3a66b8" stroke-width="0.9"/>
<line x1="150.92" y1="270.27" x2="150.92" y2="268.78" stroke="#5636a8" stroke-width="0.8" />
<line x1="149.32" y1="268.78" x2="152.52" y2="268.78" stroke="#5636a8" stroke-width="0.8" />
<rect x="149.32" y="270.72" width="3.20" height="12.88" fill="#9c80de" stroke="#5636a8" stroke-width="0.9"/>
<line x1="157.39" y1="272.86" x2="157.39" y2="271.56" stroke="#a828b4" stroke-width="0.8" />
<line x1="155.79" y1="271.56" x2="158.99" y2="271.56" stroke="#a828b4" stroke-width="0.8" />
<rect x="155.79" y="273.31" width="3.20" height="10.29" fill="#ee8cee" stroke="#a828b4" stroke-width="0.9"/>
<rect x="162.26" y="269.60" width="3.20" height="14.00" fill="#b0e080" stroke="#5c9c28" stroke-width="0.9"/>
<rect x="168.73" y="265.72" width="3.20" height="17.88" fill="#2a8ab2" stroke="#0e4e70" stroke-width="0.9"/>
<line x1="176.80" y1="264.71" x2="176.80" y2="260.08" stroke="#261858" stroke-width="0.8" />
<line x1="175.20" y1="260.08" x2="178.40" y2="260.08" stroke="#261858" stroke-width="0.8" />
<rect x="175.20" y="265.16" width="3.20" height="18.44" fill="#5a4898" stroke="#261858" stroke-width="0.9"/>
<rect x="181.67" y="250.71" width="3.20" height="32.89" fill="#e86272" stroke="#a81c2c" stroke-width="0.9"/>
<line x1="189.74" y1="225.08" x2="189.74" y2="221.19" stroke="#2c3c1c" stroke-width="0.8" />
<line x1="188.14" y1="221.19" x2="191.34" y2="221.19" stroke="#2c3c1c" stroke-width="0.8" />
<rect x="188.14" y="225.53" width="3.20" height="58.07" fill="#82a266" stroke="#2c3c1c" stroke-width="0.9"/>
<rect x="199.45" y="266.09" width="3.20" height="17.51" fill="#80a8e4" stroke="#3a66b8" stroke-width="0.9"/>
<rect x="205.92" y="266.09" width="3.20" height="17.51" fill="#9c80de" stroke="#5636a8" stroke-width="0.9"/>
<rect x="212.39" y="264.97" width="3.20" height="18.63" fill="#ee8cee" stroke="#a828b4" stroke-width="0.9"/>
<line x1="220.46" y1="263.97" x2="220.46" y2="262.67" stroke="#5c9c28" stroke-width="0.8" />
<line x1="218.86" y1="262.67" x2="222.06" y2="262.67" stroke="#5c9c28" stroke-width="0.8" />
<rect x="218.86" y="264.42" width="3.20" height="19.18" fill="#b0e080" stroke="#5c9c28" stroke-width="0.9"/>
<rect x="225.33" y="265.72" width="3.20" height="17.88" fill="#2a8ab2" stroke="#0e4e70" stroke-width="0.9"/>
<line x1="233.40" y1="260.08" x2="233.40" y2="258.78" stroke="#261858" stroke-width="0.8" />
<line x1="231.80" y1="258.78" x2="235.00" y2="258.78" stroke="#261858" stroke-width="0.8" />
<rect x="231.80" y="260.53" width="3.20" height="23.07" fill="#5a4898" stroke="#261858" stroke-width="0.9"/>
<line x1="239.87" y1="259.34" x2="239.87" y2="255.45" stroke="#a81c2c" stroke-width="0.8" />
<line x1="238.27" y1="255.45" x2="241.47" y2="255.45" stroke="#a81c2c" stroke-width="0.8" />
<rect x="238.27" y="259.79" width="3.20" height="23.81" fill="#e86272" stroke="#a81c2c" stroke-width="0.9"/>
<line x1="246.34" y1="260.08" x2="246.34" y2="256.38" stroke="#2c3c1c" stroke-width="0.8" />
<line x1="244.74" y1="256.38" x2="247.94" y2="256.38" stroke="#2c3c1c" stroke-width="0.8" />
<rect x="244.74" y="260.53" width="3.20" height="23.07" fill="#82a266" stroke="#2c3c1c" stroke-width="0.9"/>
<text x="0" y="0" font-size="9" text-anchor="middle" fill="#111" stroke="#111" stroke-width="0.2" transform="translate(10,235.4) rotate(-90)">Gray density</text>
<rect x="258.5" y="189.5" width="8.6" height="4.6" fill="#80a8e4" stroke="#3a66b8" stroke-width="1"/>
<text x="270.9" y="195.0" font-size="9" text-anchor="start" fill="#111" stroke="#111" stroke-width="0.2" >Normoxia-0h</text>
<rect x="258.5" y="201.9" width="8.6" height="4.6" fill="#9c80de" stroke="#5636a8" stroke-width="1"/>
<text x="272.4" y="207.4" font-size="9" text-anchor="start" fill="#111" stroke="#111" stroke-width="0.2" >Normoxia-0.5h</text>
<rect x="258.5" y="214.5" width="8.6" height="4.6" fill="#ee8cee" stroke="#a828b4" stroke-width="1"/>
<text x="270.9" y="220.0" font-size="9" text-anchor="start" fill="#111" stroke="#111" stroke-width="0.2" >Normoxia-1h</text>
<rect x="258.5" y="226.7" width="8.6" height="4.6" fill="#b0e080" stroke="#5c9c28" stroke-width="1"/>
<text x="270.9" y="232.2" font-size="9" text-anchor="start" fill="#111" stroke="#111" stroke-width="0.2" >Normoxia-3h</text>
<rect x="258.5" y="239.7" width="8.6" height="4.6" fill="#2a8ab2" stroke="#0e4e70" stroke-width="1"/>
<text x="270.9" y="245.2" font-size="9" text-anchor="start" fill="#111" stroke="#111" stroke-width="0.2" >Hypoxia-0h</text>
<rect x="258.5" y="251.9" width="8.6" height="4.6" fill="#5a4898" stroke="#261858" stroke-width="1"/>
<text x="272.4" y="257.4" font-size="9" text-anchor="start" fill="#111" stroke="#111" stroke-width="0.2" >Hypoxia-0.5h</text>
<rect x="258.5" y="264.2" width="8.6" height="4.6" fill="#e86272" stroke="#a81c2c" stroke-width="1"/>
<text x="270.9" y="269.7" font-size="9" text-anchor="start" fill="#111" stroke="#111" stroke-width="0.2" >Hypoxia-1h</text>
<rect x="258.5" y="276.9" width="8.6" height="4.6" fill="#82a266" stroke="#2c3c1c" stroke-width="1"/>
<text x="270.9" y="282.4" font-size="9" text-anchor="start" fill="#111" stroke="#111" stroke-width="0.2" >Hypoxia-3h</text>
<text x="54.4" y="294.5" font-size="9" text-anchor="middle" fill="#111" stroke="#111" stroke-width="0.2" >HIF-1α</text>
<text x="54.4" y="303.5" font-size="9" text-anchor="middle" fill="#111" stroke="#111" stroke-width="0.2" >/GAPDH</text>
<text x="111.0" y="294.5" font-size="9" text-anchor="middle" fill="#111" stroke="#111" stroke-width="0.2" >IGFBP-1</text>
<text x="111.0" y="303.5" font-size="9" text-anchor="middle" fill="#111" stroke="#111" stroke-width="0.2" >/GAPDH</text>
<text x="167.3" y="294.5" font-size="9" text-anchor="middle" fill="#111" stroke="#111" stroke-width="0.2" >cl-PARP</text>
<text x="167.3" y="301.3" font-size="9" text-anchor="middle" fill="#111" stroke="#111" stroke-width="0.2" >/PARP</text>
<text x="223.7" y="294.5" font-size="9" text-anchor="middle" fill="#111" stroke="#111" stroke-width="0.2" >Bax</text>
<text x="223.7" y="301.3" font-size="9" text-anchor="middle" fill="#111" stroke="#111" stroke-width="0.2" >/GAPDH</text>
<polyline points="51.6,205.7 51.6,201.9 77.4,201.9 77.4,205.7" fill="none" stroke="#333" stroke-width="0.8"/>
<polygon points="64.50,195.80 65.08,197.20 66.59,197.32 65.44,198.31 65.79,199.78 64.50,198.99 63.21,199.78 63.56,198.31 62.41,197.32 63.92,197.20" fill="#111" stroke="#111" stroke-width="0.3"/>
<polyline points="108.3,235.8 108.3,232.2 133.9,232.2 133.9,235.8" fill="none" stroke="#333" stroke-width="0.8"/>
<polygon points="122.00,226.30 122.58,227.70 124.09,227.82 122.94,228.81 123.29,230.28 122.00,229.49 120.71,230.28 121.06,228.81 119.91,227.82 121.42,227.70" fill="#111" stroke="#111" stroke-width="0.3"/>
<polyline points="164.4,218.5 164.4,214.9 189.9,214.9 189.9,218.5" fill="none" stroke="#333" stroke-width="0.8"/>
<polygon points="177.80,207.30 178.38,208.70 179.89,208.82 178.74,209.81 179.09,211.28 177.80,210.49 176.51,211.28 176.86,209.81 175.71,208.82 177.22,208.70" fill="#111" stroke="#111" stroke-width="0.3"/>
<polyline points="220.2,253.1 220.2,248.9 246.2,248.9 246.2,253.1" fill="none" stroke="#333" stroke-width="0.8"/>
<polygon points="233.40,243.10 233.98,244.50 235.49,244.62 234.34,245.61 234.69,247.08 233.40,246.29 232.11,247.08 232.46,245.61 231.31,244.62 232.82,244.50" fill="#111" stroke="#111" stroke-width="0.3"/>
<line x1="376.10" y1="191.60" x2="376.10" y2="284.50" stroke="#111" stroke-width="1.3" />
<line x1="371.60" y1="283.70" x2="599.40" y2="283.70" stroke="#111" stroke-width="1.7" />
<line x1="371.90" y1="283.70" x2="376.10" y2="283.70" stroke="#111" stroke-width="1.3" />
<text x="369.8" y="287.0" font-size="9.5" text-anchor="end" fill="#111" stroke="#111" stroke-width="0.2" >0</text>
<line x1="371.90" y1="253.00" x2="376.10" y2="253.00" stroke="#111" stroke-width="1.3" />
<text x="369.8" y="256.3" font-size="9.5" text-anchor="end" fill="#111" stroke="#111" stroke-width="0.2" >2</text>
<line x1="371.90" y1="222.30" x2="376.10" y2="222.30" stroke="#111" stroke-width="1.3" />
<text x="369.8" y="225.6" font-size="9.5" text-anchor="end" fill="#111" stroke="#111" stroke-width="0.2" >4</text>
<line x1="371.90" y1="191.60" x2="376.10" y2="191.60" stroke="#111" stroke-width="1.3" />
<text x="369.8" y="194.9" font-size="9.5" text-anchor="end" fill="#111" stroke="#111" stroke-width="0.2" >6</text>
<line x1="402.70" y1="283.70" x2="402.70" y2="287.20" stroke="#111" stroke-width="1.3" />
<line x1="459.50" y1="283.70" x2="459.50" y2="287.20" stroke="#111" stroke-width="1.3" />
<line x1="515.70" y1="283.70" x2="515.70" y2="287.20" stroke="#111" stroke-width="1.3" />
<line x1="572.20" y1="283.70" x2="572.20" y2="287.20" stroke="#111" stroke-width="1.3" />
<rect x="378.75" y="268.95" width="3.10" height="14.75" fill="#80a8e4" stroke="#3a66b8" stroke-width="0.9"/>
<line x1="386.83" y1="267.12" x2="386.83" y2="266.51" stroke="#5636a8" stroke-width="0.8" />
<line x1="385.23" y1="266.51" x2="388.43" y2="266.51" stroke="#5636a8" stroke-width="0.8" />
<rect x="385.28" y="267.57" width="3.10" height="16.13" fill="#9c80de" stroke="#5636a8" stroke-width="0.9"/>
<line x1="393.36" y1="267.12" x2="393.36" y2="266.51" stroke="#a828b4" stroke-width="0.8" />
<line x1="391.76" y1="266.51" x2="394.96" y2="266.51" stroke="#a828b4" stroke-width="0.8" />
<rect x="391.81" y="267.57" width="3.10" height="16.13" fill="#ee8cee" stroke="#a828b4" stroke-width="0.9"/>
<line x1="399.89" y1="254.53" x2="399.89" y2="250.39" stroke="#5c9c28" stroke-width="0.8" />
<line x1="398.29" y1="250.39" x2="401.49" y2="250.39" stroke="#5c9c28" stroke-width="0.8" />
<rect x="398.34" y="254.98" width="3.10" height="28.71" fill="#b0e080" stroke="#5c9c28" stroke-width="0.9"/>
<rect x="404.87" y="269.26" width="3.10" height="14.44" fill="#2a8ab2" stroke="#0e4e70" stroke-width="0.9"/>
<line x1="412.95" y1="253.46" x2="412.95" y2="247.93" stroke="#261858" stroke-width="0.8" />
<line x1="411.35" y1="247.93" x2="414.55" y2="247.93" stroke="#261858" stroke-width="0.8" />
<rect x="411.40" y="253.91" width="3.10" height="29.79" fill="#5a4898" stroke="#261858" stroke-width="0.9"/>
<line x1="419.48" y1="233.04" x2="419.48" y2="229.51" stroke="#a81c2c" stroke-width="0.8" />
<line x1="417.88" y1="229.51" x2="421.08" y2="229.51" stroke="#a81c2c" stroke-width="0.8" />
<rect x="417.93" y="233.49" width="3.10" height="50.20" fill="#e86272" stroke="#a81c2c" stroke-width="0.9"/>
<line x1="426.01" y1="211.09" x2="426.01" y2="208.18" stroke="#2c3c1c" stroke-width="0.8" />
<line x1="424.41" y1="208.18" x2="427.61" y2="208.18" stroke="#2c3c1c" stroke-width="0.8" />
<rect x="424.46" y="211.54" width="3.10" height="72.16" fill="#82a266" stroke="#2c3c1c" stroke-width="0.9"/>
<rect x="435.05" y="269.26" width="3.10" height="14.44" fill="#80a8e4" stroke="#3a66b8" stroke-width="0.9"/>
<line x1="443.13" y1="272.80" x2="443.13" y2="272.19" stroke="#5636a8" stroke-width="0.8" />
<line x1="441.53" y1="272.19" x2="444.73" y2="272.19" stroke="#5636a8" stroke-width="0.8" />
<rect x="441.58" y="273.25" width="3.10" height="10.45" fill="#9c80de" stroke="#5636a8" stroke-width="0.9"/>
<line x1="449.66" y1="265.43" x2="449.66" y2="259.45" stroke="#a828b4" stroke-width="0.8" />
<line x1="448.06" y1="259.45" x2="451.26" y2="259.45" stroke="#a828b4" stroke-width="0.8" />
<rect x="448.11" y="265.88" width="3.10" height="17.82" fill="#ee8cee" stroke="#a828b4" stroke-width="0.9"/>
<line x1="456.19" y1="259.14" x2="456.19" y2="258.37" stroke="#5c9c28" stroke-width="0.8" />
<line x1="454.59" y1="258.37" x2="457.79" y2="258.37" stroke="#5c9c28" stroke-width="0.8" />
<rect x="454.64" y="259.59" width="3.10" height="24.11" fill="#b0e080" stroke="#5c9c28" stroke-width="0.9"/>
<rect x="461.17" y="269.26" width="3.10" height="14.44" fill="#2a8ab2" stroke="#0e4e70" stroke-width="0.9"/>
<line x1="469.25" y1="263.28" x2="469.25" y2="258.83" stroke="#261858" stroke-width="0.8" />
<line x1="467.65" y1="258.83" x2="470.85" y2="258.83" stroke="#261858" stroke-width="0.8" />
<rect x="467.70" y="263.73" width="3.10" height="19.97" fill="#5a4898" stroke="#261858" stroke-width="0.9"/>
<line x1="475.78" y1="234.43" x2="475.78" y2="231.05" stroke="#a81c2c" stroke-width="0.8" />
<line x1="474.18" y1="231.05" x2="477.38" y2="231.05" stroke="#a81c2c" stroke-width="0.8" />
<rect x="474.23" y="234.88" width="3.10" height="48.82" fill="#e86272" stroke="#a81c2c" stroke-width="0.9"/>
<line x1="482.31" y1="223.22" x2="482.31" y2="219.23" stroke="#2c3c1c" stroke-width="0.8" />
<line x1="480.71" y1="219.23" x2="483.91" y2="219.23" stroke="#2c3c1c" stroke-width="0.8" />
<rect x="480.76" y="223.67" width="3.10" height="60.03" fill="#82a266" stroke="#2c3c1c" stroke-width="0.9"/>
<rect x="491.75" y="269.26" width="3.10" height="14.44" fill="#80a8e4" stroke="#3a66b8" stroke-width="0.9"/>
<line x1="499.83" y1="258.99" x2="499.83" y2="258.37" stroke="#5636a8" stroke-width="0.8" />
<line x1="498.23" y1="258.37" x2="501.43" y2="258.37" stroke="#5636a8" stroke-width="0.8" />
<rect x="498.28" y="259.44" width="3.10" height="24.26" fill="#9c80de" stroke="#5636a8" stroke-width="0.9"/>
<rect x="504.81" y="261.59" width="3.10" height="22.11" fill="#ee8cee" stroke="#a828b4" stroke-width="0.9"/>
<line x1="512.89" y1="257.45" x2="512.89" y2="253.46" stroke="#5c9c28" stroke-width="0.8" />
<line x1="511.29" y1="253.46" x2="514.49" y2="253.46" stroke="#5c9c28" stroke-width="0.8" />
<rect x="511.34" y="257.90" width="3.10" height="25.80" fill="#b0e080" stroke="#5c9c28" stroke-width="0.9"/>
<rect x="517.87" y="269.26" width="3.10" height="14.44" fill="#2a8ab2" stroke="#0e4e70" stroke-width="0.9"/>
<line x1="525.95" y1="258.22" x2="525.95" y2="255.30" stroke="#261858" stroke-width="0.8" />
<line x1="524.35" y1="255.30" x2="527.55" y2="255.30" stroke="#261858" stroke-width="0.8" />
<rect x="524.40" y="258.67" width="3.10" height="25.03" fill="#5a4898" stroke="#261858" stroke-width="0.9"/>
<line x1="532.48" y1="258.22" x2="532.48" y2="256.07" stroke="#a81c2c" stroke-width="0.8" />
<line x1="530.88" y1="256.07" x2="534.08" y2="256.07" stroke="#a81c2c" stroke-width="0.8" />
<rect x="530.93" y="258.67" width="3.10" height="25.03" fill="#e86272" stroke="#a81c2c" stroke-width="0.9"/>
<line x1="539.01" y1="265.43" x2="539.01" y2="261.44" stroke="#2c3c1c" stroke-width="0.8" />
<line x1="537.41" y1="261.44" x2="540.61" y2="261.44" stroke="#2c3c1c" stroke-width="0.8" />
<rect x="537.46" y="265.88" width="3.10" height="17.82" fill="#82a266" stroke="#2c3c1c" stroke-width="0.9"/>
<rect x="547.55" y="269.26" width="3.10" height="14.44" fill="#80a8e4" stroke="#3a66b8" stroke-width="0.9"/>
<line x1="555.63" y1="264.51" x2="555.63" y2="262.98" stroke="#5636a8" stroke-width="0.8" />
<line x1="554.03" y1="262.98" x2="557.23" y2="262.98" stroke="#5636a8" stroke-width="0.8" />
<rect x="554.08" y="264.96" width="3.10" height="18.74" fill="#9c80de" stroke="#5636a8" stroke-width="0.9"/>
<line x1="562.16" y1="267.89" x2="562.16" y2="266.05" stroke="#a828b4" stroke-width="0.8" />
<line x1="560.56" y1="266.05" x2="563.76" y2="266.05" stroke="#a828b4" stroke-width="0.8" />
<rect x="560.61" y="268.34" width="3.10" height="15.36" fill="#ee8cee" stroke="#a828b4" stroke-width="0.9"/>
<line x1="568.69" y1="268.20" x2="568.69" y2="266.81" stroke="#5c9c28" stroke-width="0.8" />
<line x1="567.09" y1="266.81" x2="570.29" y2="266.81" stroke="#5c9c28" stroke-width="0.8" />
<rect x="567.14" y="268.65" width="3.10" height="15.05" fill="#b0e080" stroke="#5c9c28" stroke-width="0.9"/>
<rect x="573.67" y="269.26" width="3.10" height="14.44" fill="#2a8ab2" stroke="#0e4e70" stroke-width="0.9"/>
<line x1="581.75" y1="243.18" x2="581.75" y2="241.49" stroke="#261858" stroke-width="0.8" />
<line x1="580.15" y1="241.49" x2="583.35" y2="241.49" stroke="#261858" stroke-width="0.8" />
<rect x="580.20" y="243.63" width="3.10" height="40.07" fill="#5a4898" stroke="#261858" stroke-width="0.9"/>
<line x1="588.28" y1="242.41" x2="588.28" y2="240.72" stroke="#a81c2c" stroke-width="0.8" />
<line x1="586.68" y1="240.72" x2="589.88" y2="240.72" stroke="#a81c2c" stroke-width="0.8" />
<rect x="586.73" y="242.86" width="3.10" height="40.84" fill="#e86272" stroke="#a81c2c" stroke-width="0.9"/>
<rect x="593.26" y="241.17" width="3.10" height="42.53" fill="#82a266" stroke="#2c3c1c" stroke-width="0.9"/>
<text x="0" y="0" font-size="9" text-anchor="middle" fill="#111" stroke="#111" stroke-width="0.2" transform="translate(361.8,236.2) rotate(-90)">Gray density</text>
<rect x="606.8" y="189.0" width="8.6" height="4.6" fill="#80a8e4" stroke="#3a66b8" stroke-width="1"/>
<text x="617.4" y="194.5" font-size="9" text-anchor="start" fill="#111" stroke="#111" stroke-width="0.2" >Normoxia-0h</text>
<rect x="606.8" y="200.5" width="8.6" height="4.6" fill="#9c80de" stroke="#5636a8" stroke-width="1"/>
<text x="617.4" y="206.0" font-size="9" text-anchor="start" fill="#111" stroke="#111" stroke-width="0.2" >Normoxia-3h</text>
<rect x="606.8" y="212.7" width="8.6" height="4.6" fill="#ee8cee" stroke="#a828b4" stroke-width="1"/>
<text x="617.4" y="218.2" font-size="9" text-anchor="start" fill="#111" stroke="#111" stroke-width="0.2" >Normoxia-6h</text>
<rect x="606.8" y="225.0" width="8.6" height="4.6" fill="#b0e080" stroke="#5c9c28" stroke-width="1"/>
<text x="617.4" y="230.5" font-size="9" text-anchor="start" fill="#111" stroke="#111" stroke-width="0.2" >Normoxia-9h</text>
<rect x="606.8" y="237.3" width="8.6" height="4.6" fill="#2a8ab2" stroke="#0e4e70" stroke-width="1"/>
<text x="617.4" y="242.8" font-size="9" text-anchor="start" fill="#111" stroke="#111" stroke-width="0.2" >Hypoxia-0h</text>
<rect x="606.8" y="249.8" width="8.6" height="4.6" fill="#5a4898" stroke="#261858" stroke-width="1"/>
<text x="617.4" y="255.3" font-size="9" text-anchor="start" fill="#111" stroke="#111" stroke-width="0.2" >Hypoxia-3h</text>
<rect x="606.8" y="262.4" width="8.6" height="4.6" fill="#e86272" stroke="#a81c2c" stroke-width="1"/>
<text x="617.4" y="267.9" font-size="9" text-anchor="start" fill="#111" stroke="#111" stroke-width="0.2" >Hypoxia-6h</text>
<rect x="606.8" y="275.1" width="8.6" height="4.6" fill="#82a266" stroke="#2c3c1c" stroke-width="1"/>
<text x="617.4" y="280.6" font-size="9" text-anchor="start" fill="#111" stroke="#111" stroke-width="0.2" >Hypoxia-9h</text>
<text x="402.5" y="294.5" font-size="9" text-anchor="middle" fill="#111" stroke="#111" stroke-width="0.2" >HIF-1α</text>
<text x="402.5" y="303.5" font-size="9" text-anchor="middle" fill="#111" stroke="#111" stroke-width="0.2" >/GAPDH</text>
<text x="459.5" y="294.5" font-size="9" text-anchor="middle" fill="#111" stroke="#111" stroke-width="0.2" >IGFBP-1</text>
<text x="459.5" y="303.5" font-size="9" text-anchor="middle" fill="#111" stroke="#111" stroke-width="0.2" >/GAPDH</text>
<text x="515.7" y="294.5" font-size="9" text-anchor="middle" fill="#111" stroke="#111" stroke-width="0.2" >cl-PARP</text>
<text x="515.7" y="301.3" font-size="9" text-anchor="middle" fill="#111" stroke="#111" stroke-width="0.2" >/PARP</text>
<text x="572.2" y="294.5" font-size="9" text-anchor="middle" fill="#111" stroke="#111" stroke-width="0.2" >Bax</text>
<text x="572.2" y="301.3" font-size="9" text-anchor="middle" fill="#111" stroke="#111" stroke-width="0.2" >/GAPDH</text>
<polyline points="387.4,246.8 387.4,243.0 413.3,243.0 413.3,246.8" fill="none" stroke="#333" stroke-width="0.8"/>
<polygon points="400.50,236.70 401.08,238.10 402.59,238.22 401.44,239.21 401.79,240.68 400.50,239.89 399.21,240.68 399.56,239.21 398.41,238.22 399.92,238.10" fill="#111" stroke="#111" stroke-width="0.3"/>
<polyline points="393.7,227.7 393.7,224.0 419.2,224.0 419.2,227.7" fill="none" stroke="#333" stroke-width="0.8"/>
<polygon points="405.90,217.90 406.48,219.30 407.99,219.42 406.84,220.41 407.19,221.88 405.90,221.09 404.61,221.88 404.96,220.41 403.81,219.42 405.32,219.30" fill="#111" stroke="#111" stroke-width="0.3"/>
<polyline points="400.1,206.4 400.1,202.7 425.7,202.7 425.7,206.4" fill="none" stroke="#333" stroke-width="0.8"/>
<polygon points="413.30,196.60 413.88,198.00 415.39,198.12 414.24,199.11 414.59,200.58 413.30,199.79 412.01,200.58 412.36,199.11 411.21,198.12 412.72,198.00" fill="#111" stroke="#111" stroke-width="0.3"/>
<polyline points="443.3,257.5 443.3,253.6 469.5,253.6 469.5,257.5" fill="none" stroke="#333" stroke-width="0.8"/>
<polygon points="456.40,246.90 456.98,248.30 458.49,248.42 457.34,249.41 457.69,250.88 456.40,250.09 455.11,250.88 455.46,249.41 454.31,248.42 455.82,248.30" fill="#111" stroke="#111" stroke-width="0.3"/>
<polyline points="450.4,228.6 450.4,225.1 475.7,225.1 475.7,228.6" fill="none" stroke="#333" stroke-width="0.8"/>
<polygon points="463.20,218.80 463.78,220.20 465.29,220.32 464.14,221.31 464.49,222.78 463.20,221.99 461.91,222.78 462.26,221.31 461.11,220.32 462.62,220.20" fill="#111" stroke="#111" stroke-width="0.3"/>
<polyline points="456.4,217.8 456.4,213.2 482.3,213.2 482.3,217.8" fill="none" stroke="#333" stroke-width="0.8"/>
<polygon points="469.20,207.70 469.78,209.10 471.29,209.22 470.14,210.21 470.49,211.68 469.20,210.89 467.91,211.68 468.26,210.21 467.11,209.22 468.62,209.10" fill="#111" stroke="#111" stroke-width="0.3"/>
<polyline points="499.5,253.6 499.5,249.5 525.7,249.5 525.7,253.6" fill="none" stroke="#333" stroke-width="0.8"/>
<polygon points="513.00,243.50 513.58,244.90 515.09,245.02 513.94,246.01 514.29,247.48 513.00,246.69 511.71,247.48 512.06,246.01 510.91,245.02 512.42,244.90" fill="#111" stroke="#111" stroke-width="0.3"/>
<polyline points="505.5,246.4 505.5,242.7 531.3,242.7 531.3,246.4" fill="none" stroke="#333" stroke-width="0.8"/>
<polygon points="518.20,235.80 518.78,237.20 520.29,237.32 519.14,238.31 519.49,239.78 518.20,238.99 516.91,239.78 517.26,238.31 516.11,237.32 517.62,237.20" fill="#111" stroke="#111" stroke-width="0.3"/>
<polyline points="556.3,239.6 556.3,234.9 582.9,234.9 582.9,239.6" fill="none" stroke="#333" stroke-width="0.8"/>
<polygon points="569.60,228.70 570.18,230.10 571.69,230.22 570.54,231.21 570.89,232.68 569.60,231.89 568.31,232.68 568.66,231.21 567.51,230.22 569.02,230.10" fill="#111" stroke="#111" stroke-width="0.3"/>
<polyline points="562.5,230.8 562.5,226.3 588.7,226.3 588.7,230.8" fill="none" stroke="#333" stroke-width="0.8"/>
<polygon points="574.70,220.50 575.28,221.90 576.79,222.02 575.64,223.01 575.99,224.48 574.70,223.69 573.41,224.48 573.76,223.01 572.61,222.02 574.12,221.90" fill="#111" stroke="#111" stroke-width="0.3"/>
<polyline points="569.3,221.7 569.3,217.8 594.8,217.8 594.8,221.7" fill="none" stroke="#333" stroke-width="0.8"/>
<polygon points="582.40,212.00 582.98,213.40 584.49,213.52 583.34,214.51 583.69,215.98 582.40,215.19 581.11,215.98 581.46,214.51 580.31,213.52 581.82,213.40" fill="#111" stroke="#111" stroke-width="0.3"/>
<line x1="24.40" y1="517.32" x2="24.40" y2="600.60" stroke="#111" stroke-width="1.3" />
<line x1="19.90" y1="599.80" x2="247.30" y2="599.80" stroke="#111" stroke-width="1.7" />
<line x1="20.20" y1="599.80" x2="24.40" y2="599.80" stroke="#111" stroke-width="1.3" />
<text x="18.1" y="603.1" font-size="9.5" text-anchor="end" fill="#111" stroke="#111" stroke-width="0.2" >0</text>
<line x1="20.20" y1="579.18" x2="24.40" y2="579.18" stroke="#111" stroke-width="1.3" />
<text x="18.1" y="582.5" font-size="9.5" text-anchor="end" fill="#111" stroke="#111" stroke-width="0.2" >2</text>
<line x1="20.20" y1="558.56" x2="24.40" y2="558.56" stroke="#111" stroke-width="1.3" />
<text x="18.1" y="561.9" font-size="9.5" text-anchor="end" fill="#111" stroke="#111" stroke-width="0.2" >4</text>
<line x1="20.20" y1="537.94" x2="24.40" y2="537.94" stroke="#111" stroke-width="1.3" />
<text x="18.1" y="541.2" font-size="9.5" text-anchor="end" fill="#111" stroke="#111" stroke-width="0.2" >6</text>
<line x1="20.20" y1="517.32" x2="24.40" y2="517.32" stroke="#111" stroke-width="1.3" />
<text x="18.1" y="520.6" font-size="9.5" text-anchor="end" fill="#111" stroke="#111" stroke-width="0.2" >8</text>
<line x1="50.60" y1="599.80" x2="50.60" y2="603.30" stroke="#111" stroke-width="1.3" />
<line x1="107.50" y1="599.80" x2="107.50" y2="603.30" stroke="#111" stroke-width="1.3" />
<line x1="163.30" y1="599.80" x2="163.30" y2="603.30" stroke="#111" stroke-width="1.3" />
<line x1="219.70" y1="599.80" x2="219.70" y2="603.30" stroke="#111" stroke-width="1.3" />
<rect x="26.75" y="590.35" width="3.10" height="9.45" fill="#80a8e4" stroke="#3a66b8" stroke-width="0.9"/>
<rect x="33.32" y="590.35" width="3.10" height="9.45" fill="#9c80de" stroke="#5636a8" stroke-width="0.9"/>
<line x1="41.44" y1="582.38" x2="41.44" y2="581.24" stroke="#a828b4" stroke-width="0.8" />
<line x1="39.84" y1="581.24" x2="43.04" y2="581.24" stroke="#a828b4" stroke-width="0.8" />
<rect x="39.89" y="582.83" width="3.10" height="16.97" fill="#ee8cee" stroke="#a828b4" stroke-width="0.9"/>
<line x1="48.01" y1="529.38" x2="48.01" y2="525.77" stroke="#5c9c28" stroke-width="0.8" />
<line x1="46.41" y1="525.77" x2="49.61" y2="525.77" stroke="#5c9c28" stroke-width="0.8" />
<rect x="46.46" y="529.83" width="3.10" height="69.97" fill="#b0e080" stroke="#5c9c28" stroke-width="0.9"/>
<rect x="53.03" y="590.35" width="3.10" height="9.45" fill="#2a8ab2" stroke="#0e4e70" stroke-width="0.9"/>
<rect x="59.60" y="599.73" width="3.10" height="0.07" fill="#5a4898" stroke="#261858" stroke-width="0.9"/>
<rect x="66.17" y="599.94" width="3.10" height="0.05" fill="#e86272" stroke="#a81c2c" stroke-width="0.9"/>
<line x1="74.29" y1="597.53" x2="74.29" y2="596.09" stroke="#2c3c1c" stroke-width="0.8" />
<line x1="72.69" y1="596.09" x2="75.89" y2="596.09" stroke="#2c3c1c" stroke-width="0.8" />
<rect x="72.74" y="597.98" width="3.10" height="1.82" fill="#82a266" stroke="#2c3c1c" stroke-width="0.9"/>
<rect x="83.15" y="590.35" width="3.10" height="9.45" fill="#80a8e4" stroke="#3a66b8" stroke-width="0.9"/>
<line x1="91.27" y1="589.90" x2="91.27" y2="589.49" stroke="#5636a8" stroke-width="0.8" />
<line x1="89.67" y1="589.49" x2="92.87" y2="589.49" stroke="#5636a8" stroke-width="0.8" />
<rect x="89.72" y="590.35" width="3.10" height="9.45" fill="#9c80de" stroke="#5636a8" stroke-width="0.9"/>
<rect x="96.29" y="578.60" width="3.10" height="21.20" fill="#ee8cee" stroke="#a828b4" stroke-width="0.9"/>
<line x1="104.41" y1="556.91" x2="104.41" y2="553.40" stroke="#5c9c28" stroke-width="0.8" />
<line x1="102.81" y1="553.40" x2="106.01" y2="553.40" stroke="#5c9c28" stroke-width="0.8" />
<rect x="102.86" y="557.36" width="3.10" height="42.44" fill="#b0e080" stroke="#5c9c28" stroke-width="0.9"/>
<rect x="109.43" y="590.35" width="3.10" height="9.45" fill="#2a8ab2" stroke="#0e4e70" stroke-width="0.9"/>
<line x1="117.55" y1="588.77" x2="117.55" y2="587.43" stroke="#261858" stroke-width="0.8" />
<line x1="115.95" y1="587.43" x2="119.15" y2="587.43" stroke="#261858" stroke-width="0.8" />
<rect x="116.00" y="589.22" width="3.10" height="10.58" fill="#5a4898" stroke="#261858" stroke-width="0.9"/>
<rect x="122.57" y="595.82" width="3.10" height="3.98" fill="#e86272" stroke="#a81c2c" stroke-width="0.9"/>
<rect x="129.14" y="596.33" width="3.10" height="3.47" fill="#82a266" stroke="#2c3c1c" stroke-width="0.9"/>
<rect x="139.45" y="590.35" width="3.10" height="9.45" fill="#80a8e4" stroke="#3a66b8" stroke-width="0.9"/>
<line x1="147.57" y1="594.34" x2="147.57" y2="593.61" stroke="#5636a8" stroke-width="0.8" />
<line x1="145.97" y1="593.61" x2="149.17" y2="593.61" stroke="#5636a8" stroke-width="0.8" />
<rect x="146.02" y="594.79" width="3.10" height="5.01" fill="#9c80de" stroke="#5636a8" stroke-width="0.9"/>
<rect x="152.59" y="586.43" width="3.10" height="13.37" fill="#ee8cee" stroke="#a828b4" stroke-width="0.9"/>
<line x1="160.71" y1="580.21" x2="160.71" y2="578.15" stroke="#5c9c28" stroke-width="0.8" />
<line x1="159.11" y1="578.15" x2="162.31" y2="578.15" stroke="#5c9c28" stroke-width="0.8" />
<rect x="159.16" y="580.66" width="3.10" height="19.14" fill="#b0e080" stroke="#5c9c28" stroke-width="0.9"/>
<rect x="165.73" y="590.35" width="3.10" height="9.45" fill="#2a8ab2" stroke="#0e4e70" stroke-width="0.9"/>
<rect x="172.30" y="596.64" width="3.10" height="3.16" fill="#5a4898" stroke="#261858" stroke-width="0.9"/>
<rect x="178.87" y="598.29" width="3.10" height="1.51" fill="#e86272" stroke="#a81c2c" stroke-width="0.9"/>
<rect x="185.44" y="593.45" width="3.10" height="6.35" fill="#82a266" stroke="#2c3c1c" stroke-width="0.9"/>
<rect x="195.85" y="590.35" width="3.10" height="9.45" fill="#80a8e4" stroke="#3a66b8" stroke-width="0.9"/>
<rect x="202.42" y="588.50" width="3.10" height="11.30" fill="#9c80de" stroke="#5636a8" stroke-width="0.9"/>
<line x1="210.54" y1="586.29" x2="210.54" y2="584.13" stroke="#a828b4" stroke-width="0.8" />
<line x1="208.94" y1="584.13" x2="212.14" y2="584.13" stroke="#a828b4" stroke-width="0.8" />
<rect x="208.99" y="586.74" width="3.10" height="13.06" fill="#ee8cee" stroke="#a828b4" stroke-width="0.9"/>
<line x1="217.11" y1="582.48" x2="217.11" y2="580.21" stroke="#5c9c28" stroke-width="0.8" />
<line x1="215.51" y1="580.21" x2="218.71" y2="580.21" stroke="#5c9c28" stroke-width="0.8" />
<rect x="215.56" y="582.93" width="3.10" height="16.87" fill="#b0e080" stroke="#5c9c28" stroke-width="0.9"/>
<rect x="222.13" y="590.35" width="3.10" height="9.45" fill="#2a8ab2" stroke="#0e4e70" stroke-width="0.9"/>
<rect x="228.70" y="591.49" width="3.10" height="8.31" fill="#5a4898" stroke="#261858" stroke-width="0.9"/>
<rect x="235.27" y="592.41" width="3.10" height="7.39" fill="#e86272" stroke="#a81c2c" stroke-width="0.9"/>
<line x1="243.39" y1="593.00" x2="243.39" y2="591.76" stroke="#2c3c1c" stroke-width="0.8" />
<line x1="241.79" y1="591.76" x2="244.99" y2="591.76" stroke="#2c3c1c" stroke-width="0.8" />
<rect x="241.84" y="593.45" width="3.10" height="6.35" fill="#82a266" stroke="#2c3c1c" stroke-width="0.9"/>
<text x="0" y="0" font-size="9" text-anchor="middle" fill="#111" stroke="#111" stroke-width="0.2" transform="translate(8.2,558.3) rotate(-90)">Gray density</text>
<rect x="254.5" y="515.5" width="8.6" height="4.6" fill="#80a8e4" stroke="#3a66b8" stroke-width="1"/>
<text x="265.4" y="521.0" font-size="9" text-anchor="start" fill="#111" stroke="#111" stroke-width="0.2" >Hypoxia-0h</text>
<rect x="254.5" y="525.3" width="8.6" height="4.6" fill="#9c80de" stroke="#5636a8" stroke-width="1"/>
<text x="265.4" y="530.8" font-size="9" text-anchor="start" fill="#111" stroke="#111" stroke-width="0.2" >Hypoxia-0.5h</text>
<rect x="254.5" y="536.3" width="8.6" height="4.6" fill="#ee8cee" stroke="#a828b4" stroke-width="1"/>
<text x="265.4" y="541.8" font-size="9" text-anchor="start" fill="#111" stroke="#111" stroke-width="0.2" >Hypoxia-1h</text>
<rect x="254.5" y="547.2" width="8.6" height="4.6" fill="#b0e080" stroke="#5c9c28" stroke-width="1"/>
<text x="265.4" y="552.7" font-size="9" text-anchor="start" fill="#111" stroke="#111" stroke-width="0.2" >Hypoxia-3h</text>
<rect x="254.5" y="558.2" width="8.6" height="4.6" fill="#2a8ab2" stroke="#0e4e70" stroke-width="1"/>
<text x="265.4" y="563.7" font-size="9" text-anchor="start" fill="#111" stroke="#111" stroke-width="0.2" >Hypoxia+2ME-0h</text>
<rect x="254.5" y="569.6" width="8.6" height="4.6" fill="#5a4898" stroke="#261858" stroke-width="1"/>
<text x="265.4" y="575.1" font-size="9" text-anchor="start" fill="#111" stroke="#111" stroke-width="0.2" >Hypoxia+2ME-0.5h</text>
<rect x="254.5" y="580.5" width="8.6" height="4.6" fill="#e86272" stroke="#a81c2c" stroke-width="1"/>
<text x="265.4" y="586.0" font-size="9" text-anchor="start" fill="#111" stroke="#111" stroke-width="0.2" >Hypoxia+2ME-1h</text>
<rect x="254.5" y="591.5" width="8.6" height="4.6" fill="#82a266" stroke="#2c3c1c" stroke-width="1"/>
<text x="265.4" y="597.0" font-size="9" text-anchor="start" fill="#111" stroke="#111" stroke-width="0.2" >Hypoxia+2ME-3h</text>
<text x="50.6" y="610.7" font-size="9" text-anchor="middle" fill="#111" stroke="#111" stroke-width="0.2" >HIF-1α</text>
<text x="50.6" y="619.7" font-size="9" text-anchor="middle" fill="#111" stroke="#111" stroke-width="0.2" >/GAPDH</text>
<text x="107.5" y="610.7" font-size="9" text-anchor="middle" fill="#111" stroke="#111" stroke-width="0.2" >IGFBP-1</text>
<text x="107.5" y="619.7" font-size="9" text-anchor="middle" fill="#111" stroke="#111" stroke-width="0.2" >/GAPDH</text>
<text x="163.3" y="610.7" font-size="9" text-anchor="middle" fill="#111" stroke="#111" stroke-width="0.2" >cl-PARP</text>
<text x="163.3" y="617.5" font-size="9" text-anchor="middle" fill="#111" stroke="#111" stroke-width="0.2" >/PARP</text>
<text x="219.7" y="610.7" font-size="9" text-anchor="middle" fill="#111" stroke="#111" stroke-width="0.2" >Bax</text>
<text x="219.7" y="617.5" font-size="9" text-anchor="middle" fill="#111" stroke="#111" stroke-width="0.2" >/GAPDH</text>
<polyline points="47.3,525.1 47.3,521.3 73.5,521.3 73.5,525.1" fill="none" stroke="#333" stroke-width="0.8"/>
<text x="61.0" y="519.9" font-size="7" text-anchor="middle" fill="#222" stroke="#222" stroke-width="0.2" font-style="italic">#</text>
<polyline points="103.3,551.9 103.3,547.1 129.0,547.1 129.0,551.9" fill="none" stroke="#333" stroke-width="0.8"/>
<text x="116.6" y="545.9" font-size="7" text-anchor="middle" fill="#222" stroke="#222" stroke-width="0.2" font-style="italic">#</text>
<polyline points="160.2,576.5 160.2,572.3 185.6,572.3 185.6,576.5" fill="none" stroke="#333" stroke-width="0.8"/>
<text x="173.6" y="571.1" font-size="7" text-anchor="middle" fill="#222" stroke="#222" stroke-width="0.2" font-style="italic">#</text>
<polyline points="215.5,578.1 215.5,574.2 241.4,574.2 241.4,578.1" fill="none" stroke="#333" stroke-width="0.8"/>
<text x="229.2" y="573.4" font-size="7" text-anchor="middle" fill="#222" stroke="#222" stroke-width="0.2" font-style="italic">#</text>
<line x1="373.00" y1="516.82" x2="373.00" y2="600.60" stroke="#111" stroke-width="1.3" />
<line x1="368.50" y1="599.80" x2="597.80" y2="599.80" stroke="#111" stroke-width="1.7" />
<line x1="368.80" y1="599.80" x2="373.00" y2="599.80" stroke="#111" stroke-width="1.3" />
<text x="367.4" y="603.1" font-size="9.5" text-anchor="end" fill="#111" stroke="#111" stroke-width="0.2" >0</text>
<line x1="368.80" y1="572.14" x2="373.00" y2="572.14" stroke="#111" stroke-width="1.3" />
<text x="367.4" y="575.4" font-size="9.5" text-anchor="end" fill="#111" stroke="#111" stroke-width="0.2" >2</text>
<line x1="368.80" y1="544.48" x2="373.00" y2="544.48" stroke="#111" stroke-width="1.3" />
<text x="367.4" y="547.8" font-size="9.5" text-anchor="end" fill="#111" stroke="#111" stroke-width="0.2" >4</text>
<line x1="368.80" y1="516.82" x2="373.00" y2="516.82" stroke="#111" stroke-width="1.3" />
<text x="367.4" y="520.1" font-size="9.5" text-anchor="end" fill="#111" stroke="#111" stroke-width="0.2" >6</text>
<line x1="399.40" y1="599.80" x2="399.40" y2="603.30" stroke="#111" stroke-width="1.3" />
<line x1="456.50" y1="599.80" x2="456.50" y2="603.30" stroke="#111" stroke-width="1.3" />
<line x1="512.70" y1="599.80" x2="512.70" y2="603.30" stroke="#111" stroke-width="1.3" />
<line x1="569.20" y1="599.80" x2="569.20" y2="603.30" stroke="#111" stroke-width="1.3" />
<rect x="375.35" y="586.70" width="3.10" height="13.10" fill="#80a8e4" stroke="#3a66b8" stroke-width="0.9"/>
<line x1="383.49" y1="573.94" x2="383.49" y2="568.27" stroke="#5636a8" stroke-width="0.8" />
<line x1="381.89" y1="568.27" x2="385.09" y2="568.27" stroke="#5636a8" stroke-width="0.8" />
<rect x="381.94" y="574.39" width="3.10" height="25.41" fill="#9c80de" stroke="#5636a8" stroke-width="0.9"/>
<line x1="390.08" y1="550.15" x2="390.08" y2="548.91" stroke="#a828b4" stroke-width="0.8" />
<line x1="388.48" y1="548.91" x2="391.68" y2="548.91" stroke="#a828b4" stroke-width="0.8" />
<rect x="388.53" y="550.60" width="3.10" height="49.20" fill="#ee8cee" stroke="#a828b4" stroke-width="0.9"/>
<line x1="396.67" y1="532.03" x2="396.67" y2="526.22" stroke="#5c9c28" stroke-width="0.8" />
<line x1="395.07" y1="526.22" x2="398.27" y2="526.22" stroke="#5c9c28" stroke-width="0.8" />
<rect x="395.12" y="532.48" width="3.10" height="67.32" fill="#b0e080" stroke="#5c9c28" stroke-width="0.9"/>
<rect x="401.71" y="586.70" width="3.10" height="13.10" fill="#2a8ab2" stroke="#0e4e70" stroke-width="0.9"/>
<rect x="408.30" y="599.14" width="3.10" height="0.66" fill="#5a4898" stroke="#261858" stroke-width="0.9"/>
<rect x="414.89" y="599.14" width="3.10" height="0.66" fill="#e86272" stroke="#a81c2c" stroke-width="0.9"/>
<line x1="423.03" y1="596.48" x2="423.03" y2="594.96" stroke="#2c3c1c" stroke-width="0.8" />
<line x1="421.43" y1="594.96" x2="424.63" y2="594.96" stroke="#2c3c1c" stroke-width="0.8" />
<rect x="421.48" y="596.93" width="3.10" height="2.87" fill="#82a266" stroke="#2c3c1c" stroke-width="0.9"/>
<rect x="432.25" y="586.70" width="3.10" height="13.10" fill="#80a8e4" stroke="#3a66b8" stroke-width="0.9"/>
<line x1="440.39" y1="586.25" x2="440.39" y2="585.00" stroke="#5636a8" stroke-width="0.8" />
<line x1="438.79" y1="585.00" x2="441.99" y2="585.00" stroke="#5636a8" stroke-width="0.8" />
<rect x="438.84" y="586.70" width="3.10" height="13.10" fill="#9c80de" stroke="#5636a8" stroke-width="0.9"/>
<line x1="446.98" y1="578.92" x2="446.98" y2="576.15" stroke="#a828b4" stroke-width="0.8" />
<line x1="445.38" y1="576.15" x2="448.58" y2="576.15" stroke="#a828b4" stroke-width="0.8" />
<rect x="445.43" y="579.37" width="3.10" height="20.43" fill="#ee8cee" stroke="#a828b4" stroke-width="0.9"/>
<line x1="453.57" y1="569.51" x2="453.57" y2="567.16" stroke="#5c9c28" stroke-width="0.8" />
<line x1="451.97" y1="567.16" x2="455.17" y2="567.16" stroke="#5c9c28" stroke-width="0.8" />
<rect x="452.02" y="569.96" width="3.10" height="29.84" fill="#b0e080" stroke="#5c9c28" stroke-width="0.9"/>
<rect x="458.61" y="586.70" width="3.10" height="13.10" fill="#2a8ab2" stroke="#0e4e70" stroke-width="0.9"/>
<line x1="466.75" y1="561.08" x2="466.75" y2="559.69" stroke="#261858" stroke-width="0.8" />
<line x1="465.15" y1="559.69" x2="468.35" y2="559.69" stroke="#261858" stroke-width="0.8" />
<rect x="465.20" y="561.53" width="3.10" height="38.27" fill="#5a4898" stroke="#261858" stroke-width="0.9"/>
<line x1="473.34" y1="593.02" x2="473.34" y2="591.50" stroke="#a81c2c" stroke-width="0.8" />
<line x1="471.74" y1="591.50" x2="474.94" y2="591.50" stroke="#a81c2c" stroke-width="0.8" />
<rect x="471.79" y="593.47" width="3.10" height="6.33" fill="#e86272" stroke="#a81c2c" stroke-width="0.9"/>
<line x1="479.93" y1="594.13" x2="479.93" y2="592.19" stroke="#2c3c1c" stroke-width="0.8" />
<line x1="478.33" y1="592.19" x2="481.53" y2="592.19" stroke="#2c3c1c" stroke-width="0.8" />
<rect x="478.38" y="594.58" width="3.10" height="5.22" fill="#82a266" stroke="#2c3c1c" stroke-width="0.9"/>
<rect x="488.55" y="586.70" width="3.10" height="13.10" fill="#80a8e4" stroke="#3a66b8" stroke-width="0.9"/>
<line x1="496.69" y1="561.91" x2="496.69" y2="559.14" stroke="#5636a8" stroke-width="0.8" />
<line x1="495.09" y1="559.14" x2="498.29" y2="559.14" stroke="#5636a8" stroke-width="0.8" />
<rect x="495.14" y="562.36" width="3.10" height="37.44" fill="#9c80de" stroke="#5636a8" stroke-width="0.9"/>
<line x1="503.28" y1="572.83" x2="503.28" y2="567.99" stroke="#a828b4" stroke-width="0.8" />
<line x1="501.68" y1="567.99" x2="504.88" y2="567.99" stroke="#a828b4" stroke-width="0.8" />
<rect x="501.73" y="573.28" width="3.10" height="26.52" fill="#ee8cee" stroke="#a828b4" stroke-width="0.9"/>
<line x1="509.87" y1="580.16" x2="509.87" y2="578.23" stroke="#5c9c28" stroke-width="0.8" />
<line x1="508.27" y1="578.23" x2="511.47" y2="578.23" stroke="#5c9c28" stroke-width="0.8" />
<rect x="508.32" y="580.61" width="3.10" height="19.19" fill="#b0e080" stroke="#5c9c28" stroke-width="0.9"/>
<rect x="514.91" y="586.70" width="3.10" height="13.10" fill="#2a8ab2" stroke="#0e4e70" stroke-width="0.9"/>
<line x1="523.05" y1="576.98" x2="523.05" y2="576.01" stroke="#261858" stroke-width="0.8" />
<line x1="521.45" y1="576.01" x2="524.65" y2="576.01" stroke="#261858" stroke-width="0.8" />
<rect x="521.50" y="577.43" width="3.10" height="22.37" fill="#5a4898" stroke="#261858" stroke-width="0.9"/>
<line x1="529.64" y1="581.96" x2="529.64" y2="580.71" stroke="#a81c2c" stroke-width="0.8" />
<line x1="528.04" y1="580.71" x2="531.24" y2="580.71" stroke="#a81c2c" stroke-width="0.8" />
<rect x="528.09" y="582.41" width="3.10" height="17.39" fill="#e86272" stroke="#a81c2c" stroke-width="0.9"/>
<rect x="534.68" y="582.41" width="3.10" height="17.39" fill="#82a266" stroke="#2c3c1c" stroke-width="0.9"/>
<rect x="545.25" y="586.70" width="3.10" height="13.10" fill="#80a8e4" stroke="#3a66b8" stroke-width="0.9"/>
<line x1="553.39" y1="580.44" x2="553.39" y2="578.36" stroke="#5636a8" stroke-width="0.8" />
<line x1="551.79" y1="578.36" x2="554.99" y2="578.36" stroke="#5636a8" stroke-width="0.8" />
<rect x="551.84" y="580.89" width="3.10" height="18.91" fill="#9c80de" stroke="#5636a8" stroke-width="0.9"/>
<line x1="559.98" y1="580.99" x2="559.98" y2="576.98" stroke="#a828b4" stroke-width="0.8" />
<line x1="558.38" y1="576.98" x2="561.58" y2="576.98" stroke="#a828b4" stroke-width="0.8" />
<rect x="558.43" y="581.44" width="3.10" height="18.36" fill="#ee8cee" stroke="#a828b4" stroke-width="0.9"/>
<rect x="565.02" y="581.44" width="3.10" height="18.36" fill="#b0e080" stroke="#5c9c28" stroke-width="0.9"/>
<rect x="571.61" y="586.70" width="3.10" height="13.10" fill="#2a8ab2" stroke="#0e4e70" stroke-width="0.9"/>
<rect x="578.20" y="587.94" width="3.10" height="11.86" fill="#5a4898" stroke="#261858" stroke-width="0.9"/>
<rect x="584.79" y="586.42" width="3.10" height="13.38" fill="#e86272" stroke="#a81c2c" stroke-width="0.9"/>
<rect x="591.38" y="590.71" width="3.10" height="9.09" fill="#82a266" stroke="#2c3c1c" stroke-width="0.9"/>
<text x="0" y="0" font-size="9" text-anchor="middle" fill="#111" stroke="#111" stroke-width="0.2" transform="translate(357.6,558.5) rotate(-90)">Gray density</text>
<rect x="604.4" y="515.5" width="8.6" height="4.6" fill="#80a8e4" stroke="#3a66b8" stroke-width="1"/>
<text x="614.7" y="521.0" font-size="9" text-anchor="start" fill="#111" stroke="#111" stroke-width="0.2" >Hypoxia-0h</text>
<rect x="604.4" y="525.2" width="8.6" height="4.6" fill="#9c80de" stroke="#5636a8" stroke-width="1"/>
<text x="614.7" y="530.7" font-size="9" text-anchor="start" fill="#111" stroke="#111" stroke-width="0.2" >Hypoxia-3h</text>
<rect x="604.4" y="536.0" width="8.6" height="4.6" fill="#ee8cee" stroke="#a828b4" stroke-width="1"/>
<text x="614.7" y="541.5" font-size="9" text-anchor="start" fill="#111" stroke="#111" stroke-width="0.2" >Hypoxia-6h</text>
<rect x="604.4" y="547.1" width="8.6" height="4.6" fill="#b0e080" stroke="#5c9c28" stroke-width="1"/>
<text x="614.7" y="552.6" font-size="9" text-anchor="start" fill="#111" stroke="#111" stroke-width="0.2" >Hypoxia-9h</text>
<rect x="604.4" y="558.5" width="8.6" height="4.6" fill="#2a8ab2" stroke="#0e4e70" stroke-width="1"/>
<text x="614.7" y="564.0" font-size="9" text-anchor="start" fill="#111" stroke="#111" stroke-width="0.2" >Hypoxia+2ME-0h</text>
<rect x="604.4" y="569.6" width="8.6" height="4.6" fill="#5a4898" stroke="#261858" stroke-width="1"/>
<text x="614.7" y="575.1" font-size="9" text-anchor="start" fill="#111" stroke="#111" stroke-width="0.2" >Hypoxia+2ME-3h</text>
<rect x="604.4" y="580.7" width="8.6" height="4.6" fill="#e86272" stroke="#a81c2c" stroke-width="1"/>
<text x="614.7" y="586.2" font-size="9" text-anchor="start" fill="#111" stroke="#111" stroke-width="0.2" >Hypoxia+2ME-6h</text>
<rect x="604.4" y="591.5" width="8.6" height="4.6" fill="#82a266" stroke="#2c3c1c" stroke-width="1"/>
<text x="614.7" y="597.0" font-size="9" text-anchor="start" fill="#111" stroke="#111" stroke-width="0.2" >Hypoxia+2ME-9h</text>
<text x="400.0" y="610.5" font-size="9" text-anchor="middle" fill="#111" stroke="#111" stroke-width="0.2" >HIF-1α</text>
<text x="400.0" y="619.5" font-size="9" text-anchor="middle" fill="#111" stroke="#111" stroke-width="0.2" >/GAPDH</text>
<text x="456.5" y="610.5" font-size="9" text-anchor="middle" fill="#111" stroke="#111" stroke-width="0.2" >IGFBP-1</text>
<text x="456.5" y="619.5" font-size="9" text-anchor="middle" fill="#111" stroke="#111" stroke-width="0.2" >/GAPDH</text>
<text x="512.7" y="610.5" font-size="9" text-anchor="middle" fill="#111" stroke="#111" stroke-width="0.2" >cl-PARP</text>
<text x="512.7" y="617.3" font-size="9" text-anchor="middle" fill="#111" stroke="#111" stroke-width="0.2" >/PARP</text>
<text x="569.2" y="610.5" font-size="9" text-anchor="middle" fill="#111" stroke="#111" stroke-width="0.2" >Bax</text>
<text x="569.2" y="617.3" font-size="9" text-anchor="middle" fill="#111" stroke="#111" stroke-width="0.2" >/GAPDH</text>
<polyline points="383.6,528.6 383.6,524.7 409.2,524.7 409.2,528.6" fill="none" stroke="#333" stroke-width="0.8"/>
<text x="396.6" y="523.6" font-size="7" text-anchor="middle" fill="#222" stroke="#222" stroke-width="0.2" font-style="italic">#</text>
<polyline points="440.4,557.7 440.4,554.5 466.7,554.5 466.7,557.7" fill="none" stroke="#333" stroke-width="0.8"/>
<text x="453.8" y="553.0" font-size="7" text-anchor="middle" fill="#222" stroke="#222" stroke-width="0.2" font-style="italic">#</text>
<polyline points="445.5,549.0 445.5,545.6 471.6,545.6 471.6,549.0" fill="none" stroke="#333" stroke-width="0.8"/>
<text x="459.0" y="544.4" font-size="7" text-anchor="middle" fill="#222" stroke="#222" stroke-width="0.2" font-style="italic">#</text>
<polyline points="495.5,556.9 495.5,553.5 521.5,553.5 521.5,556.9" fill="none" stroke="#333" stroke-width="0.8"/>
<text x="509.2" y="552.2" font-size="7" text-anchor="middle" fill="#222" stroke="#222" stroke-width="0.2" font-style="italic">#</text>
<polyline points="553.1,576.5 553.1,572.6 578.6,572.6 578.6,576.5" fill="none" stroke="#333" stroke-width="0.8"/>
<text x="566.8" y="571.6" font-size="7" text-anchor="middle" fill="#222" stroke="#222" stroke-width="0.2" font-style="italic">#</text>
<text x="-0.2" y="659.5" font-size="16" text-anchor="start" fill="#111" stroke="#111" stroke-width="0.6" >e</text>
<text x="0" y="0" font-size="11" text-anchor="middle" fill="#111" stroke="#111" stroke-width="0.2" transform="translate(21.4,695.9) rotate(-90)">Cell Viability<tspan fill="#444" stroke="#444" font-size="9.6" dx="1.2">(%)</tspan></text>
<text x="112.5" y="655.4" font-size="11.5" text-anchor="middle" fill="#111" stroke="#111" stroke-width="0.2" >H9c2</text>
<line x1="46.00" y1="656.40" x2="46.00" y2="739.70" stroke="#333" stroke-width="1.1" />
<line x1="43.50" y1="739.20" x2="170.80" y2="739.20" stroke="#333" stroke-width="1.2" />
<line x1="43.50" y1="739.20" x2="46.00" y2="739.20" stroke="#333" stroke-width="1.0" />
<text x="42.3" y="742.8" font-size="10" text-anchor="end" fill="#111" stroke="#111" stroke-width="0.2" >0</text>
<line x1="43.50" y1="711.60" x2="46.00" y2="711.60" stroke="#333" stroke-width="1.0" />
<text x="42.3" y="715.2" font-size="10" text-anchor="end" fill="#111" stroke="#111" stroke-width="0.2" >50</text>
<line x1="43.50" y1="684.00" x2="46.00" y2="684.00" stroke="#333" stroke-width="1.0" />
<text x="42.3" y="687.6" font-size="10" text-anchor="end" fill="#111" stroke="#111" stroke-width="0.2" >100</text>
<line x1="43.50" y1="656.40" x2="46.00" y2="656.40" stroke="#333" stroke-width="1.0" />
<text x="42.3" y="660.0" font-size="10" text-anchor="end" fill="#111" stroke="#111" stroke-width="0.2" >150</text>
<rect x="49.90" y="686.71" width="2.60" height="52.49" fill="#bc5a04" stroke="#7a2e00" stroke-width="1.0"/>
<rect x="55.50" y="684.50" width="2.60" height="54.70" fill="#e0384a" stroke="#5a1038" stroke-width="1.0"/>
<rect x="61.10" y="684.17" width="2.60" height="55.03" fill="#005c02" stroke="#1e3c10" stroke-width="1.0"/>
<line x1="71.60" y1="689.52" x2="71.60" y2="687.31" stroke="#7a2e00" stroke-width="0.8" />
<line x1="70.40" y1="687.31" x2="72.80" y2="687.31" stroke="#7a2e00" stroke-width="0.8" />
<rect x="70.30" y="690.02" width="2.60" height="49.18" fill="#bc5a04" stroke="#7a2e00" stroke-width="1.0"/>
<rect x="75.90" y="696.75" width="2.60" height="42.45" fill="#e0384a" stroke="#5a1038" stroke-width="1.0"/>
<rect x="81.50" y="704.37" width="2.60" height="34.83" fill="#005c02" stroke="#1e3c10" stroke-width="1.0"/>
<rect x="90.80" y="684.50" width="2.60" height="54.70" fill="#bc5a04" stroke="#7a2e00" stroke-width="1.0"/>
<rect x="96.40" y="697.20" width="2.60" height="42.00" fill="#e0384a" stroke="#5a1038" stroke-width="1.0"/>
<rect x="102.00" y="700.73" width="2.60" height="38.47" fill="#005c02" stroke="#1e3c10" stroke-width="1.0"/>
<rect x="111.50" y="684.50" width="2.60" height="54.70" fill="#bc5a04" stroke="#7a2e00" stroke-width="1.0"/>
<rect x="117.10" y="703.54" width="2.60" height="35.66" fill="#e0384a" stroke="#5a1038" stroke-width="1.0"/>
<rect x="122.70" y="701.94" width="2.60" height="37.26" fill="#005c02" stroke="#1e3c10" stroke-width="1.0"/>
<rect x="132.60" y="685.88" width="2.60" height="53.32" fill="#bc5a04" stroke="#7a2e00" stroke-width="1.0"/>
<rect x="138.20" y="702.16" width="2.60" height="37.04" fill="#e0384a" stroke="#5a1038" stroke-width="1.0"/>
<rect x="143.80" y="695.98" width="2.60" height="43.22" fill="#005c02" stroke="#1e3c10" stroke-width="1.0"/>
<line x1="154.10" y1="688.97" x2="154.10" y2="687.86" stroke="#7a2e00" stroke-width="0.8" />
<line x1="152.90" y1="687.86" x2="155.30" y2="687.86" stroke="#7a2e00" stroke-width="0.8" />
<rect x="152.80" y="689.47" width="2.60" height="49.73" fill="#bc5a04" stroke="#7a2e00" stroke-width="1.0"/>
<rect x="158.40" y="709.62" width="2.60" height="29.58" fill="#e0384a" stroke="#5a1038" stroke-width="1.0"/>
<rect x="164.00" y="705.14" width="2.60" height="34.06" fill="#005c02" stroke="#1e3c10" stroke-width="1.0"/>
<polygon points="77.40,690.30 77.98,691.70 79.49,691.82 78.34,692.81 78.69,694.28 77.40,693.49 76.11,694.28 76.46,692.81 75.31,691.82 76.82,691.70" fill="#111" stroke="#111" stroke-width="0.3"/>
<polygon points="98.00,690.30 98.58,691.70 100.09,691.82 98.94,692.81 99.29,694.28 98.00,693.49 96.71,694.28 97.06,692.81 95.91,691.82 97.42,691.70" fill="#111" stroke="#111" stroke-width="0.3"/>
<polygon points="118.70,695.90 119.28,697.30 120.79,697.42 119.64,698.41 119.99,699.88 118.70,699.09 117.41,699.88 117.76,698.41 116.61,697.42 118.12,697.30" fill="#111" stroke="#111" stroke-width="0.3"/>
<text x="125.0" y="698.9" font-size="7" text-anchor="middle" fill="#222" stroke="#222" stroke-width="0.2" font-style="italic">#</text>
<polygon points="139.40,695.20 139.98,696.60 141.49,696.72 140.34,697.71 140.69,699.18 139.40,698.39 138.11,699.18 138.46,697.71 137.31,696.72 138.82,696.60" fill="#111" stroke="#111" stroke-width="0.3"/>
<text x="145.0" y="692.7" font-size="7" text-anchor="middle" fill="#222" stroke="#222" stroke-width="0.2" font-style="italic">#</text>
<polygon points="159.20,702.10 159.78,703.50 161.29,703.62 160.14,704.61 160.49,706.08 159.20,705.29 157.91,706.08 158.26,704.61 157.11,703.62 158.62,703.50" fill="#111" stroke="#111" stroke-width="0.3"/>
<text x="166.5" y="701.3" font-size="7" text-anchor="middle" fill="#222" stroke="#222" stroke-width="0.2" font-style="italic">#</text>
<text x="57.6" y="750.6" font-size="11" text-anchor="middle" fill="#111" stroke="#111" stroke-width="0.2" >0</text>
<text x="78.3" y="750.6" font-size="11" text-anchor="middle" fill="#111" stroke="#111" stroke-width="0.2" >0.5</text>
<text x="98.3" y="750.6" font-size="11" text-anchor="middle" fill="#111" stroke="#111" stroke-width="0.2" >1</text>
<text x="118.6" y="750.6" font-size="11" text-anchor="middle" fill="#111" stroke="#111" stroke-width="0.2" >3</text>
<text x="139.8" y="750.6" font-size="11" text-anchor="middle" fill="#111" stroke="#111" stroke-width="0.2" >6</text>
<text x="159.9" y="750.6" font-size="11" text-anchor="middle" fill="#111" stroke="#111" stroke-width="0.2" >9</text>
<text x="168.7" y="750.6" font-size="11" text-anchor="start" fill="#111" stroke="#111" stroke-width="0.2" >h</text>
<text x="0" y="0" font-size="11" text-anchor="middle" fill="#111" stroke="#111" stroke-width="0.2" transform="translate(184.5,696) rotate(-90)">Cell Viability<tspan fill="#444" stroke="#444" font-size="9.6" dx="1.2">(%)</tspan></text>
<text x="275.0" y="656.0" font-size="11.5" text-anchor="middle" fill="#111" stroke="#111" stroke-width="0.2" >CMs</text>
<line x1="209.20" y1="656.30" x2="209.20" y2="739.60" stroke="#333" stroke-width="1.1" />
<line x1="206.70" y1="739.10" x2="333.00" y2="739.10" stroke="#333" stroke-width="1.2" />
<line x1="206.70" y1="739.10" x2="209.20" y2="739.10" stroke="#333" stroke-width="1.0" />
<text x="206.3" y="742.7" font-size="10" text-anchor="end" fill="#111" stroke="#111" stroke-width="0.2" >0</text>
<line x1="206.70" y1="711.50" x2="209.20" y2="711.50" stroke="#333" stroke-width="1.0" />
<text x="206.3" y="715.1" font-size="10" text-anchor="end" fill="#111" stroke="#111" stroke-width="0.2" >50</text>
<line x1="206.70" y1="683.90" x2="209.20" y2="683.90" stroke="#333" stroke-width="1.0" />
<text x="206.3" y="687.5" font-size="10" text-anchor="end" fill="#111" stroke="#111" stroke-width="0.2" >100</text>
<line x1="206.70" y1="656.30" x2="209.20" y2="656.30" stroke="#333" stroke-width="1.0" />
<text x="206.3" y="659.9" font-size="10" text-anchor="end" fill="#111" stroke="#111" stroke-width="0.2" >150</text>
<line x1="216.05" y1="683.90" x2="216.05" y2="682.52" stroke="#7a2e00" stroke-width="0.8" />
<line x1="214.85" y1="682.52" x2="217.25" y2="682.52" stroke="#7a2e00" stroke-width="0.8" />
<rect x="214.40" y="684.40" width="3.30" height="54.70" fill="#bc5a04" stroke="#7a2e00" stroke-width="1.0"/>
<rect x="221.00" y="683.41" width="3.30" height="55.69" fill="#e0384a" stroke="#5a1038" stroke-width="1.0"/>
<rect x="227.60" y="681.64" width="3.30" height="57.46" fill="#005c02" stroke="#1e3c10" stroke-width="1.0"/>
<rect x="238.90" y="683.30" width="3.30" height="55.80" fill="#bc5a04" stroke="#7a2e00" stroke-width="1.0"/>
<rect x="245.50" y="690.03" width="3.30" height="49.07" fill="#e0384a" stroke="#5a1038" stroke-width="1.0"/>
<line x1="253.75" y1="684.62" x2="253.75" y2="683.62" stroke="#1e3c10" stroke-width="0.8" />
<line x1="252.55" y1="683.62" x2="254.95" y2="683.62" stroke="#1e3c10" stroke-width="0.8" />
<rect x="252.10" y="685.12" width="3.30" height="53.98" fill="#005c02" stroke="#1e3c10" stroke-width="1.0"/>
<rect x="263.90" y="681.36" width="3.30" height="57.74" fill="#bc5a04" stroke="#7a2e00" stroke-width="1.0"/>
<rect x="270.50" y="686.61" width="3.30" height="52.49" fill="#e0384a" stroke="#5a1038" stroke-width="1.0"/>
<rect x="277.10" y="684.40" width="3.30" height="54.70" fill="#005c02" stroke="#1e3c10" stroke-width="1.0"/>
<rect x="288.80" y="681.09" width="3.30" height="58.01" fill="#bc5a04" stroke="#7a2e00" stroke-width="1.0"/>
<rect x="295.40" y="723.32" width="3.30" height="15.78" fill="#e0384a" stroke="#5a1038" stroke-width="1.0"/>
<rect x="302.00" y="701.73" width="3.30" height="37.37" fill="#005c02" stroke="#1e3c10" stroke-width="1.0"/>
<line x1="315.55" y1="677.83" x2="315.55" y2="677.00" stroke="#7a2e00" stroke-width="0.8" />
<line x1="314.35" y1="677.00" x2="316.75" y2="677.00" stroke="#7a2e00" stroke-width="0.8" />
<rect x="313.90" y="678.33" width="3.30" height="60.77" fill="#bc5a04" stroke="#7a2e00" stroke-width="1.0"/>
<rect x="320.50" y="724.31" width="3.30" height="14.79" fill="#e0384a" stroke="#5a1038" stroke-width="1.0"/>
<line x1="328.75" y1="697.70" x2="328.75" y2="691.63" stroke="#1e3c10" stroke-width="0.8" />
<line x1="327.55" y1="691.63" x2="329.95" y2="691.63" stroke="#1e3c10" stroke-width="0.8" />
<rect x="327.10" y="698.20" width="3.30" height="40.90" fill="#005c02" stroke="#1e3c10" stroke-width="1.0"/>
<polygon points="247.60,683.30 248.18,684.70 249.69,684.82 248.54,685.81 248.89,687.28 247.60,686.49 246.31,687.28 246.66,685.81 245.51,684.82 247.02,684.70" fill="#111" stroke="#111" stroke-width="0.3"/>
<text x="254.6" y="681.2" font-size="7" text-anchor="middle" fill="#222" stroke="#222" stroke-width="0.2" font-style="italic">#</text>
<polygon points="272.60,679.80 273.18,681.20 274.69,681.32 273.54,682.31 273.89,683.78 272.60,682.99 271.31,683.78 271.66,682.31 270.51,681.32 272.02,681.20" fill="#111" stroke="#111" stroke-width="0.3"/>
<text x="279.7" y="680.6" font-size="7" text-anchor="middle" fill="#222" stroke="#222" stroke-width="0.2" font-style="italic">#</text>
<polygon points="297.10,716.60 297.68,718.00 299.19,718.12 298.04,719.11 298.39,720.58 297.10,719.79 295.81,720.58 296.16,719.11 295.01,718.12 296.52,718.00" fill="#111" stroke="#111" stroke-width="0.3"/>
<text x="304.2" y="698.6" font-size="7" text-anchor="middle" fill="#222" stroke="#222" stroke-width="0.2" font-style="italic">#</text>
<polygon points="321.60,717.60 322.18,719.00 323.69,719.12 322.54,720.11 322.89,721.58 321.60,720.79 320.31,721.58 320.66,720.11 319.51,719.12 321.02,719.00" fill="#111" stroke="#111" stroke-width="0.3"/>
<text x="328.8" y="689.4" font-size="7" text-anchor="middle" fill="#222" stroke="#222" stroke-width="0.2" font-style="italic">#</text>
<text x="223.3" y="750.4" font-size="11" text-anchor="middle" fill="#111" stroke="#111" stroke-width="0.2" >0</text>
<text x="247.7" y="750.4" font-size="11" text-anchor="middle" fill="#111" stroke="#111" stroke-width="0.2" >1</text>
<text x="272.5" y="750.4" font-size="11" text-anchor="middle" fill="#111" stroke="#111" stroke-width="0.2" >3</text>
<text x="297.2" y="750.4" font-size="11" text-anchor="middle" fill="#111" stroke="#111" stroke-width="0.2" >6</text>
<text x="322.1" y="750.4" font-size="11" text-anchor="middle" fill="#111" stroke="#111" stroke-width="0.2" >9</text>
<text x="330.8" y="750.4" font-size="11" text-anchor="start" fill="#111" stroke="#111" stroke-width="0.2" >h</text>
<rect x="65.1" y="754.9" width="7.6" height="4.2" fill="#bc5a04" stroke="#7a2e00" stroke-width="1"/>
<text x="75.0" y="760.4" font-size="11.5" text-anchor="start" fill="#111" stroke="#111" stroke-width="0.2" >Normoxia</text>
<rect x="160.0" y="754.9" width="7.6" height="4.2" fill="#e0384a" stroke="#5a1038" stroke-width="1"/>
<text x="170.2" y="760.4" font-size="11.5" text-anchor="start" fill="#111" stroke="#111" stroke-width="0.2" >Hypoxia</text>
<rect x="235.7" y="754.9" width="7.6" height="4.2" fill="#005c02" stroke="#1e3c10" stroke-width="1"/>
<text x="246.5" y="760.4" font-size="11.5" text-anchor="start" fill="#111" stroke="#111" stroke-width="0.2" >Hypoxia+2ME</text>
<text x="339.6" y="659.4" font-size="15.5" text-anchor="start" fill="#111" stroke="#111" stroke-width="0.5" >f</text>
<text x="0" y="0" font-size="11" text-anchor="middle" fill="#111" stroke="#111" stroke-width="0.2" transform="translate(363,691.5) rotate(-90)">Cell Survival Rate<tspan fill="#444" stroke="#444" font-size="9.6" dx="1.2">(%)</tspan></text>
<text x="442.5" y="655.4" font-size="11.5" text-anchor="middle" fill="#111" stroke="#111" stroke-width="0.2" >H9c2</text>
<line x1="383.60" y1="656.30" x2="383.60" y2="739.60" stroke="#333" stroke-width="1.1" />
<line x1="381.10" y1="739.10" x2="508.10" y2="739.10" stroke="#333" stroke-width="1.2" />
<line x1="381.10" y1="739.10" x2="383.60" y2="739.10" stroke="#333" stroke-width="1.0" />
<text x="380.0" y="742.7" font-size="10" text-anchor="end" fill="#111" stroke="#111" stroke-width="0.2" >0</text>
<line x1="381.10" y1="711.50" x2="383.60" y2="711.50" stroke="#333" stroke-width="1.0" />
<text x="380.0" y="715.1" font-size="10" text-anchor="end" fill="#111" stroke="#111" stroke-width="0.2" >50</text>
<line x1="381.10" y1="683.90" x2="383.60" y2="683.90" stroke="#333" stroke-width="1.0" />
<text x="380.0" y="687.5" font-size="10" text-anchor="end" fill="#111" stroke="#111" stroke-width="0.2" >100</text>
<line x1="381.10" y1="656.30" x2="383.60" y2="656.30" stroke="#333" stroke-width="1.0" />
<text x="380.0" y="659.9" font-size="10" text-anchor="end" fill="#111" stroke="#111" stroke-width="0.2" >150</text>
<rect x="387.40" y="685.50" width="4.50" height="53.60" fill="#bc5a04" stroke="#7a2e00" stroke-width="1.0"/>
<rect x="396.00" y="685.50" width="4.50" height="53.60" fill="#e0384a" stroke="#5a1038" stroke-width="1.0"/>
<rect x="404.60" y="685.50" width="4.50" height="53.60" fill="#005c02" stroke="#1e3c10" stroke-width="1.0"/>
<rect x="419.20" y="685.50" width="4.50" height="53.60" fill="#bc5a04" stroke="#7a2e00" stroke-width="1.0"/>
<rect x="427.80" y="723.59" width="4.50" height="15.51" fill="#e0384a" stroke="#5a1038" stroke-width="1.0"/>
<rect x="436.40" y="716.42" width="4.50" height="22.68" fill="#005c02" stroke="#1e3c10" stroke-width="1.0"/>
<rect x="450.70" y="685.50" width="4.50" height="53.60" fill="#bc5a04" stroke="#7a2e00" stroke-width="1.0"/>
<rect x="459.30" y="728.84" width="4.50" height="10.26" fill="#e0384a" stroke="#5a1038" stroke-width="1.0"/>
<rect x="467.90" y="720.56" width="4.50" height="18.54" fill="#005c02" stroke="#1e3c10" stroke-width="1.0"/>
<rect x="482.80" y="685.50" width="4.50" height="53.60" fill="#bc5a04" stroke="#7a2e00" stroke-width="1.0"/>
<rect x="491.40" y="735.18" width="4.50" height="3.92" fill="#e0384a" stroke="#5a1038" stroke-width="1.0"/>
<line x1="502.25" y1="725.30" x2="502.25" y2="720.61" stroke="#1e3c10" stroke-width="0.8" />
<line x1="501.05" y1="720.61" x2="503.45" y2="720.61" stroke="#1e3c10" stroke-width="0.8" />
<rect x="500.00" y="725.80" width="4.50" height="13.30" fill="#005c02" stroke="#1e3c10" stroke-width="1.0"/>
<polygon points="429.70,716.10 430.28,717.50 431.79,717.62 430.64,718.61 430.99,720.08 429.70,719.29 428.41,720.08 428.76,718.61 427.61,717.62 429.12,717.50" fill="#111" stroke="#111" stroke-width="0.3"/>
<text x="438.5" y="713.4" font-size="7" text-anchor="middle" fill="#222" stroke="#222" stroke-width="0.2" font-style="italic">#</text>
<polygon points="461.60,720.90 462.18,722.30 463.69,722.42 462.54,723.41 462.89,724.88 461.60,724.09 460.31,724.88 460.66,723.41 459.51,722.42 461.02,722.30" fill="#111" stroke="#111" stroke-width="0.3"/>
<text x="470.5" y="717.9" font-size="7" text-anchor="middle" fill="#222" stroke="#222" stroke-width="0.2" font-style="italic">#</text>
<polygon points="493.50,727.40 494.08,728.80 495.59,728.92 494.44,729.91 494.79,731.38 493.50,730.59 492.21,731.38 492.56,729.91 491.41,728.92 492.92,728.80" fill="#111" stroke="#111" stroke-width="0.3"/>
<text x="501.9" y="720.6" font-size="7" text-anchor="middle" fill="#222" stroke="#222" stroke-width="0.2" font-style="italic">#</text>
<text x="398.5" y="750.5" font-size="11" text-anchor="middle" fill="#111" stroke="#111" stroke-width="0.2" >0</text>
<text x="430.2" y="750.5" font-size="11" text-anchor="middle" fill="#111" stroke="#111" stroke-width="0.2" >3</text>
<text x="462.0" y="750.5" font-size="11" text-anchor="middle" fill="#111" stroke="#111" stroke-width="0.2" >6</text>
<text x="493.5" y="750.5" font-size="11" text-anchor="middle" fill="#111" stroke="#111" stroke-width="0.2" >9</text>
<text x="502.6" y="750.5" font-size="11" text-anchor="start" fill="#111" stroke="#111" stroke-width="0.2" >h</text>
<text x="0" y="0" font-size="11" text-anchor="middle" fill="#111" stroke="#111" stroke-width="0.2" transform="translate(525,692.2) rotate(-90)">Cell Survival Rate<tspan fill="#444" stroke="#444" font-size="9.6" dx="1.2">(%)</tspan></text>
<text x="605.0" y="655.8" font-size="11.5" text-anchor="middle" fill="#111" stroke="#111" stroke-width="0.2" >CMs</text>
<line x1="546.50" y1="655.80" x2="546.50" y2="738.50" stroke="#333" stroke-width="1.1" />
<line x1="544.00" y1="738.00" x2="670.40" y2="738.00" stroke="#333" stroke-width="1.2" />
<line x1="544.00" y1="738.00" x2="546.50" y2="738.00" stroke="#333" stroke-width="1.0" />
<text x="543.0" y="741.6" font-size="10" text-anchor="end" fill="#111" stroke="#111" stroke-width="0.2" >0</text>
<line x1="544.00" y1="710.60" x2="546.50" y2="710.60" stroke="#333" stroke-width="1.0" />
<text x="543.0" y="714.2" font-size="10" text-anchor="end" fill="#111" stroke="#111" stroke-width="0.2" >50</text>
<line x1="544.00" y1="683.20" x2="546.50" y2="683.20" stroke="#333" stroke-width="1.0" />
<text x="543.0" y="686.8" font-size="10" text-anchor="end" fill="#111" stroke="#111" stroke-width="0.2" >100</text>
<line x1="544.00" y1="655.80" x2="546.50" y2="655.80" stroke="#333" stroke-width="1.0" />
<text x="543.0" y="659.4" font-size="10" text-anchor="end" fill="#111" stroke="#111" stroke-width="0.2" >150</text>
<rect x="550.10" y="684.52" width="4.30" height="53.48" fill="#bc5a04" stroke="#7a2e00" stroke-width="1.0"/>
<rect x="558.40" y="684.52" width="4.30" height="53.48" fill="#e0384a" stroke="#5a1038" stroke-width="1.0"/>
<rect x="566.70" y="684.52" width="4.30" height="53.48" fill="#005c02" stroke="#1e3c10" stroke-width="1.0"/>
<rect x="582.00" y="684.52" width="4.30" height="53.48" fill="#bc5a04" stroke="#7a2e00" stroke-width="1.0"/>
<rect x="590.30" y="715.21" width="4.30" height="22.79" fill="#e0384a" stroke="#5a1038" stroke-width="1.0"/>
<rect x="598.60" y="700.14" width="4.30" height="37.86" fill="#005c02" stroke="#1e3c10" stroke-width="1.0"/>
<rect x="613.60" y="684.52" width="4.30" height="53.48" fill="#bc5a04" stroke="#7a2e00" stroke-width="1.0"/>
<rect x="621.90" y="723.16" width="4.30" height="14.84" fill="#e0384a" stroke="#5a1038" stroke-width="1.0"/>
<line x1="632.35" y1="706.49" x2="632.35" y2="703.75" stroke="#1e3c10" stroke-width="0.8" />
<line x1="631.15" y1="703.75" x2="633.55" y2="703.75" stroke="#1e3c10" stroke-width="0.8" />
<rect x="630.20" y="706.99" width="4.30" height="31.01" fill="#005c02" stroke="#1e3c10" stroke-width="1.0"/>
<rect x="645.10" y="684.52" width="4.30" height="53.48" fill="#bc5a04" stroke="#7a2e00" stroke-width="1.0"/>
<rect x="653.40" y="730.01" width="4.30" height="7.99" fill="#e0384a" stroke="#5a1038" stroke-width="1.0"/>
<rect x="661.70" y="725.07" width="4.30" height="12.93" fill="#005c02" stroke="#1e3c10" stroke-width="1.0"/>
<polygon points="592.10,709.30 592.68,710.70 594.19,710.82 593.04,711.81 593.39,713.28 592.10,712.49 590.81,713.28 591.16,711.81 590.01,710.82 591.52,710.70" fill="#111" stroke="#111" stroke-width="0.3"/>
<text x="601.0" y="697.3" font-size="7" text-anchor="middle" fill="#222" stroke="#222" stroke-width="0.2" font-style="italic">#</text>
<polygon points="624.20,717.00 624.78,718.40 626.29,718.52 625.14,719.51 625.49,720.98 624.20,720.19 622.91,720.98 623.26,719.51 622.11,718.52 623.62,718.40" fill="#111" stroke="#111" stroke-width="0.3"/>
<text x="633.1" y="703.1" font-size="7" text-anchor="middle" fill="#222" stroke="#222" stroke-width="0.2" font-style="italic">#</text>
<polygon points="655.60,723.60 656.18,725.00 657.69,725.12 656.54,726.11 656.89,727.58 655.60,726.79 654.31,727.58 654.66,726.11 653.51,725.12 655.02,725.00" fill="#111" stroke="#111" stroke-width="0.3"/>
<text x="664.5" y="722.0" font-size="7" text-anchor="middle" fill="#222" stroke="#222" stroke-width="0.2" font-style="italic">#</text>
<text x="561.1" y="749.8" font-size="11" text-anchor="middle" fill="#111" stroke="#111" stroke-width="0.2" >0</text>
<text x="592.3" y="749.8" font-size="11" text-anchor="middle" fill="#111" stroke="#111" stroke-width="0.2" >3</text>
<text x="624.2" y="749.8" font-size="11" text-anchor="middle" fill="#111" stroke="#111" stroke-width="0.2" >6</text>
<text x="655.6" y="749.8" font-size="11" text-anchor="middle" fill="#111" stroke="#111" stroke-width="0.2" >9</text>
<text x="666.0" y="749.8" font-size="11" text-anchor="start" fill="#111" stroke="#111" stroke-width="0.2" >h</text>
<rect x="394.0" y="754.9" width="7.6" height="4.2" fill="#bc5a04" stroke="#7a2e00" stroke-width="1"/>
<text x="403.8" y="760.4" font-size="11.5" text-anchor="start" fill="#111" stroke="#111" stroke-width="0.2" >Normoxia</text>
<rect x="488.8" y="754.9" width="7.6" height="4.2" fill="#e0384a" stroke="#5a1038" stroke-width="1"/>
<text x="497.6" y="760.4" font-size="11.5" text-anchor="start" fill="#111" stroke="#111" stroke-width="0.2" >Hypoxia</text>
<rect x="564.9" y="754.9" width="7.6" height="4.2" fill="#005c02" stroke="#1e3c10" stroke-width="1"/>
<text x="575.9" y="760.4" font-size="11.5" text-anchor="start" fill="#111" stroke="#111" stroke-width="0.2" >Hypoxia+2ME</text>
</svg></body></html>
